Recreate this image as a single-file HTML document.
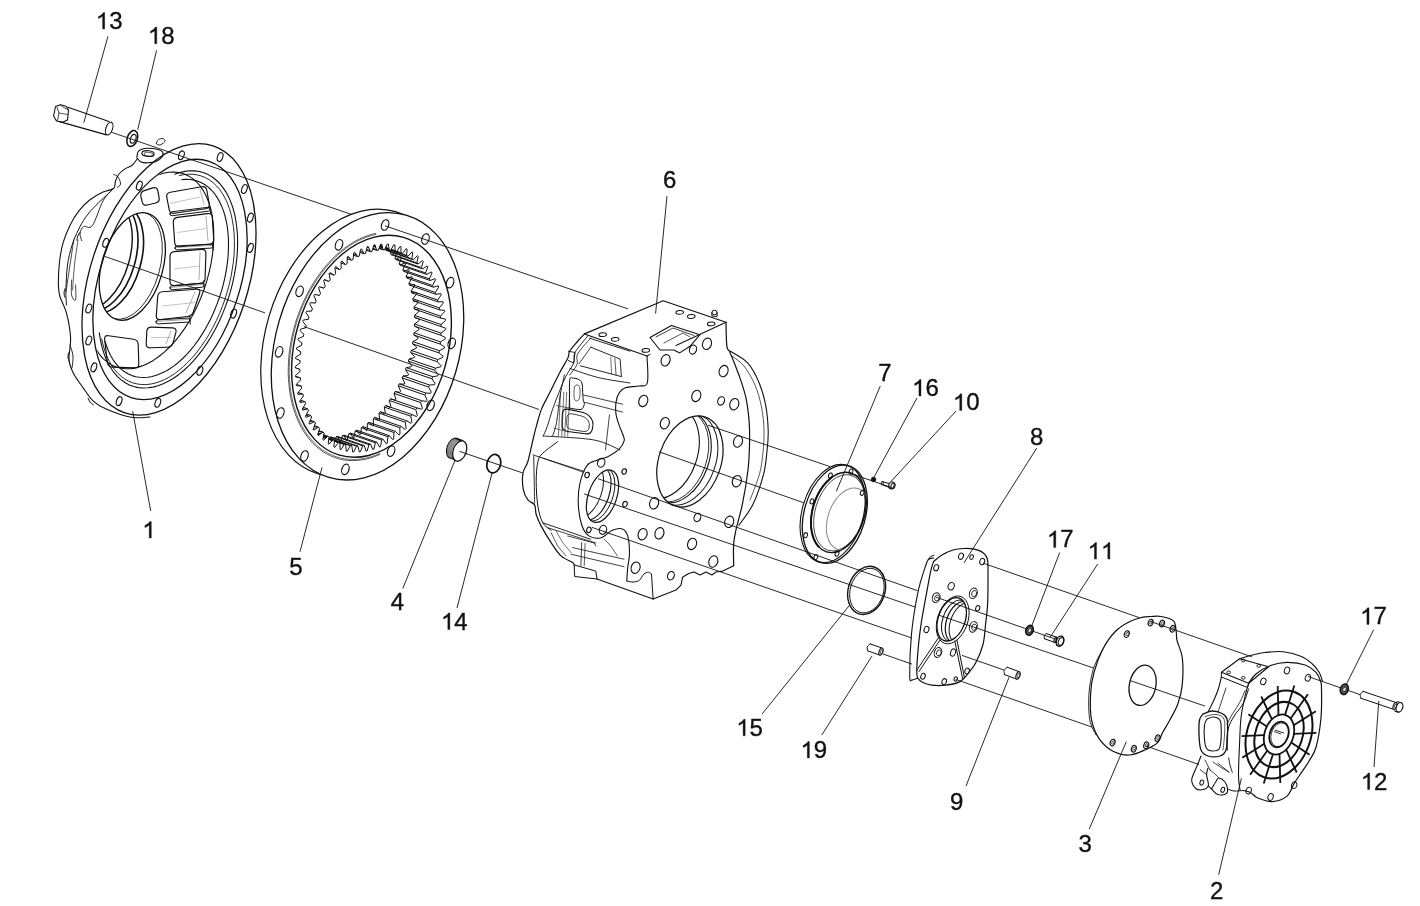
<!DOCTYPE html>
<html><head><meta charset="utf-8"><style>
html,body{margin:0;padding:0;background:#fff;width:1420px;height:906px;overflow:hidden}
svg{display:block;filter:grayscale(1)}
text{font-family:"Liberation Sans",sans-serif;fill:#111;stroke:#111;stroke-width:0.35px}
.t{will-change:transform}
</style></head><body>
<svg width="1420" height="906" viewBox="0 0 1420 906">
<rect width="1420" height="906" fill="#fff"/>
<path d="M104.7 29.1 L102.6 29.1 L102.6 16.1 Q101.9 16.8 100.6 17.5 Q99.4 18.2 98.4 18.6 L98.4 16.6 Q100.2 15.8 101.5 14.7 Q102.8 13.5 103.4 12.5 L104.7 12.5 Z" fill="#111" stroke="#111" stroke-width="0.35"/>
<text x="109.2" y="29.1" font-size="24">3</text>
<path d="M156.8 43.7 L154.7 43.7 L154.7 30.7 Q153.9 31.4 152.7 32.1 Q151.4 32.8 150.5 33.2 L150.5 31.2 Q152.2 30.4 153.6 29.3 Q154.9 28.1 155.4 27.1 L156.8 27.1 Z" fill="#111" stroke="#111" stroke-width="0.35"/>
<text x="161.2" y="43.7" font-size="24">8</text>
<text x="663.1" y="187.5" font-size="24">6</text>
<text x="878.2" y="380.5" font-size="24">7</text>
<path d="M921.0 396.0 L918.9 396.0 L918.9 383.0 Q918.2 383.7 916.9 384.4 Q915.7 385.1 914.7 385.5 L914.7 383.5 Q916.5 382.7 917.8 381.6 Q919.1 380.4 919.7 379.4 L921.0 379.4 Z" fill="#111" stroke="#111" stroke-width="0.35"/>
<text x="925.5" y="396.0" font-size="24">6</text>
<path d="M961.8 410.4 L959.7 410.4 L959.7 397.4 Q959.0 398.1 957.7 398.8 Q956.5 399.5 955.5 399.9 L955.5 397.9 Q957.3 397.1 958.6 396.0 Q959.9 394.8 960.5 393.8 L961.8 393.8 Z" fill="#111" stroke="#111" stroke-width="0.35"/>
<text x="966.2" y="410.4" font-size="24">0</text>
<text x="1029.9" y="444.5" font-size="24">8</text>
<path d="M151.3 538.0 L149.2 538.0 L149.2 525.0 Q148.4 525.7 147.2 526.4 Q145.9 527.1 144.9 527.5 L144.9 525.5 Q146.7 524.7 148.0 523.6 Q149.4 522.4 149.9 521.4 L151.3 521.4 Z" fill="#111" stroke="#111" stroke-width="0.35"/>
<text x="289.2" y="574.6" font-size="24">5</text>
<text x="390.8" y="610.4" font-size="24">4</text>
<path d="M449.9 629.5 L447.8 629.5 L447.8 616.5 Q447.0 617.2 445.8 617.9 Q444.6 618.6 443.6 619.0 L443.6 617.0 Q445.3 616.2 446.7 615.1 Q448.0 613.9 448.5 612.9 L449.9 612.9 Z" fill="#111" stroke="#111" stroke-width="0.35"/>
<text x="454.3" y="629.5" font-size="24">4</text>
<path d="M1055.8 547.4 L1053.7 547.4 L1053.7 534.4 Q1053.0 535.1 1051.7 535.8 Q1050.5 536.5 1049.5 536.9 L1049.5 534.9 Q1051.3 534.1 1052.6 533.0 Q1053.9 531.8 1054.5 530.8 L1055.8 530.8 Z" fill="#111" stroke="#111" stroke-width="0.35"/>
<text x="1060.2" y="547.4" font-size="24">7</text>
<path d="M1096.5 559.1 L1094.4 559.1 L1094.4 546.1 Q1093.7 546.8 1092.4 547.5 Q1091.2 548.2 1090.2 548.6 L1090.2 546.6 Q1092.0 545.8 1093.3 544.7 Q1094.6 543.5 1095.2 542.5 L1096.5 542.5 Z" fill="#111" stroke="#111" stroke-width="0.35"/>
<path d="M1109.9 559.1 L1107.8 559.1 L1107.8 546.1 Q1107.0 546.8 1105.8 547.5 Q1104.5 548.2 1103.6 548.6 L1103.6 546.6 Q1105.3 545.8 1106.7 544.7 Q1108.0 543.5 1108.5 542.5 L1109.9 542.5 Z" fill="#111" stroke="#111" stroke-width="0.35"/>
<path d="M745.2 735.8 L743.1 735.8 L743.1 722.8 Q742.3 723.5 741.1 724.2 Q739.9 724.9 738.9 725.3 L738.9 723.3 Q740.6 722.5 742.0 721.4 Q743.3 720.2 743.8 719.2 L745.2 719.2 Z" fill="#111" stroke="#111" stroke-width="0.35"/>
<text x="749.6" y="735.8" font-size="24">5</text>
<path d="M809.4 758.0 L807.3 758.0 L807.3 745.0 Q806.5 745.7 805.3 746.4 Q804.0 747.1 803.1 747.5 L803.1 745.5 Q804.8 744.7 806.2 743.6 Q807.5 742.4 808.0 741.4 L809.4 741.4 Z" fill="#111" stroke="#111" stroke-width="0.35"/>
<text x="813.8" y="758.0" font-size="24">9</text>
<text x="950.0" y="810.1" font-size="24">9</text>
<text x="1078.6" y="852.3" font-size="24">3</text>
<text x="1210.1" y="899.1" font-size="24">2</text>
<path d="M1369.0 624.4 L1366.9 624.4 L1366.9 611.4 Q1366.1 612.1 1364.9 612.8 Q1363.7 613.5 1362.7 613.9 L1362.7 611.9 Q1364.4 611.1 1365.8 610.0 Q1367.1 608.8 1367.6 607.8 L1369.0 607.8 Z" fill="#111" stroke="#111" stroke-width="0.35"/>
<text x="1373.4" y="624.4" font-size="24">7</text>
<path d="M1369.7 789.6 L1367.6 789.6 L1367.6 776.6 Q1366.8 777.3 1365.6 778.0 Q1364.3 778.7 1363.4 779.1 L1363.4 777.1 Q1365.1 776.3 1366.5 775.2 Q1367.8 774.0 1368.3 773.0 L1369.7 773.0 Z" fill="#111" stroke="#111" stroke-width="0.35"/>
<text x="1374.1" y="789.6" font-size="24">2</text>
<line x1="108.0" y1="36.2" x2="83.8" y2="122.7" stroke="#111" stroke-width="0.9"/>
<line x1="156.6" y1="50.3" x2="137.7" y2="129.8" stroke="#111" stroke-width="0.9"/>
<line x1="667.0" y1="196.0" x2="655.6" y2="313.5" stroke="#111" stroke-width="0.9"/>
<line x1="880.3" y1="386.0" x2="836.3" y2="491.4" stroke="#111" stroke-width="0.9"/>
<line x1="917.0" y1="398.0" x2="873.9" y2="477.4" stroke="#111" stroke-width="0.9"/>
<line x1="955.9" y1="411.2" x2="891.0" y2="481.5" stroke="#111" stroke-width="0.9"/>
<line x1="1036.8" y1="448.0" x2="964.0" y2="562.8" stroke="#111" stroke-width="0.9"/>
<line x1="150.7" y1="511.0" x2="132.7" y2="411.3" stroke="#111" stroke-width="0.9"/>
<line x1="300.0" y1="551.8" x2="322.0" y2="467.4" stroke="#111" stroke-width="0.9"/>
<line x1="402.8" y1="588.5" x2="454.7" y2="461.0" stroke="#111" stroke-width="0.9"/>
<line x1="457.0" y1="608.0" x2="492.2" y2="472.5" stroke="#111" stroke-width="0.9"/>
<line x1="1059.7" y1="552.5" x2="1031.5" y2="626.6" stroke="#111" stroke-width="0.9"/>
<line x1="1097.7" y1="564.0" x2="1050.0" y2="637.5" stroke="#111" stroke-width="0.9"/>
<line x1="762.1" y1="714.0" x2="849.3" y2="605.5" stroke="#111" stroke-width="0.9"/>
<line x1="821.8" y1="735.0" x2="872.0" y2="656.0" stroke="#111" stroke-width="0.9"/>
<line x1="966.0" y1="786.0" x2="1009.0" y2="677.3" stroke="#111" stroke-width="0.9"/>
<line x1="1089.3" y1="829.0" x2="1126.3" y2="741.7" stroke="#111" stroke-width="0.9"/>
<line x1="1218.7" y1="874.7" x2="1241.4" y2="778.3" stroke="#111" stroke-width="0.9"/>
<line x1="1373.6" y1="629.8" x2="1346.5" y2="684.0" stroke="#111" stroke-width="0.9"/>
<line x1="1374.0" y1="767.0" x2="1378.8" y2="701.0" stroke="#111" stroke-width="0.9"/>
<line x1="111.0" y1="132.1" x2="352.0" y2="214.6" stroke="#111" stroke-width="0.9"/>
<line x1="385.0" y1="225.8" x2="628.0" y2="308.9" stroke="#111" stroke-width="0.9"/>
<line x1="104.5" y1="256.3" x2="265.0" y2="312.9" stroke="#111" stroke-width="0.9"/>
<line x1="304.0" y1="326.6" x2="539.0" y2="409.5" stroke="#111" stroke-width="0.9"/>
<line x1="659.0" y1="451.8" x2="804.0" y2="502.9" stroke="#111" stroke-width="0.9"/>
<line x1="708.0" y1="425.2" x2="830.0" y2="466.6" stroke="#111" stroke-width="0.9"/>
<line x1="851.0" y1="473.7" x2="892.0" y2="487.6" stroke="#111" stroke-width="0.9"/>
<line x1="598.0" y1="478.7" x2="917.5" y2="590.7" stroke="#111" stroke-width="0.9"/>
<line x1="936.0" y1="597.2" x2="1060.0" y2="640.7" stroke="#111" stroke-width="0.9"/>
<line x1="459.0" y1="451.2" x2="522.5" y2="472.9" stroke="#111" stroke-width="0.9"/>
<line x1="584.0" y1="493.9" x2="915.6" y2="607.2" stroke="#111" stroke-width="0.9"/>
<line x1="938.0" y1="614.9" x2="1094.0" y2="668.2" stroke="#111" stroke-width="0.9"/>
<line x1="1130.0" y1="680.5" x2="1205.0" y2="706.1" stroke="#111" stroke-width="0.9"/>
<line x1="1275.0" y1="730.1" x2="1284.0" y2="733.1" stroke="#111" stroke-width="0.9"/>
<line x1="592.0" y1="527.4" x2="912.0" y2="638.1" stroke="#111" stroke-width="0.9"/>
<line x1="962.0" y1="655.4" x2="1004.0" y2="670.0" stroke="#111" stroke-width="0.9"/>
<line x1="883.0" y1="654.0" x2="912.0" y2="664.1" stroke="#111" stroke-width="0.9"/>
<line x1="955.7" y1="679.4" x2="1092.0" y2="727.1" stroke="#111" stroke-width="0.9"/>
<line x1="1146.0" y1="746.0" x2="1199.0" y2="764.5" stroke="#111" stroke-width="0.9"/>
<line x1="983.0" y1="563.1" x2="1140.0" y2="617.9" stroke="#111" stroke-width="0.9"/>
<line x1="1150.0" y1="621.3" x2="1252.0" y2="656.9" stroke="#111" stroke-width="0.9"/>
<line x1="1308.0" y1="676.5" x2="1360.0" y2="694.6" stroke="#111" stroke-width="0.9"/>
<path d="M67.9 107.2 L109.0 121.5" fill="none" stroke="#111" stroke-width="1.1" stroke-linejoin="round" stroke-linecap="round" />
<path d="M59.4 121.6 L106.5 134.9" fill="none" stroke="#111" stroke-width="1.1" stroke-linejoin="round" stroke-linecap="round" />
<ellipse cx="109.2" cy="128.6" rx="3.3" ry="6.6" transform="rotate(19.3 109.2 128.6)" fill="#fff" stroke="#111" stroke-width="1.1"/>
<path d="M55.5 106.5 L60.5 104.8 L66.0 106.3 L68.5 110.0 L67.5 120.0 L62.5 122.3 L56.5 121.0 L53.6 116.0 L55.5 106.5" fill="none" stroke="#111" stroke-width="1.1" stroke-linejoin="round" stroke-linecap="round" />
<path d="M57.0 107.5 L59.0 113.0 L57.5 120.5" fill="none" stroke="#111" stroke-width="0.8" stroke-linejoin="round" stroke-linecap="round" />
<path d="M59.0 113.0 L67.5 114.5" fill="none" stroke="#111" stroke-width="0.7" stroke-linejoin="round" stroke-linecap="round" />
<path d="M60.5 104.8 L62.0 106.5 L68.5 110.0" fill="none" stroke="#111" stroke-width="0.7" stroke-linejoin="round" stroke-linecap="round" />
<ellipse cx="132.3" cy="138.5" rx="5.0" ry="8.2" transform="rotate(19.3 132.3 138.5)" fill="none" stroke="#111" stroke-width="1.5"/>
<ellipse cx="133.2" cy="138.8" rx="2.6" ry="4.6" transform="rotate(19.3 133.2 138.8)" fill="none" stroke="#111" stroke-width="1.1"/>
<path d="M137.5 158.5 C136.6 159.6 134.3 163.5 132.2 165.2 C130.1 166.9 127.2 167.4 125.0 168.9 C122.8 170.4 120.6 172.0 119.0 174.0 C117.4 176.0 116.4 178.6 115.5 181.0 C114.6 183.4 115.7 186.7 113.6 188.5 C111.5 190.3 107.0 190.2 103.0 192.1 C99.0 194.0 93.7 196.9 89.7 200.0 C85.7 203.1 82.3 206.5 79.1 210.6 C75.9 214.7 72.9 219.4 70.3 224.7 C67.7 230.0 65.0 236.2 63.2 242.4 C61.4 248.6 60.3 254.9 59.5 262.0 C58.7 269.1 58.3 279.2 58.4 285.0 C58.5 290.8 58.5 291.8 59.9 296.5 C61.2 301.2 64.7 306.2 66.5 313.1 C68.3 320.0 70.2 330.2 70.6 337.9 C71.0 345.6 68.6 353.6 69.0 359.4 C69.4 365.2 70.8 368.0 73.1 372.7 C75.4 377.4 79.7 382.9 83.0 387.6 C86.3 392.3 89.1 397.2 93.0 400.8 C96.9 404.4 99.9 406.4 106.2 409.1 C112.5 411.9 123.7 416.0 131.0 417.3 C138.3 418.6 146.8 417.1 150.0 417.0" fill="none" stroke="#111" stroke-width="1.1" stroke-linejoin="round" stroke-linecap="round" />
<path d="M111.8 190.3 C108.9 193.1 98.6 202.5 94.2 207.1 C89.8 211.7 88.0 213.9 85.3 217.7 C82.6 221.5 80.5 225.4 78.3 230.0 C76.1 234.6 73.9 239.3 72.1 245.1 C70.3 250.9 68.5 257.5 67.5 265.0 C66.5 272.5 66.1 283.3 65.9 290.0 C65.7 296.7 66.4 302.5 66.5 305.0" fill="none" stroke="#111" stroke-width="1.0" stroke-linejoin="round" stroke-linecap="round" />
<path d="M113.0 189.0 C111.3 191.0 106.4 194.8 103.0 200.9 C99.6 207.0 95.6 221.3 92.4 225.6 C89.2 229.9 85.7 225.2 83.6 226.5 C81.5 227.8 80.3 231.2 80.0 233.6 C79.7 235.9 81.5 239.4 81.8 240.6" fill="none" stroke="#111" stroke-width="0.9" stroke-linejoin="round" stroke-linecap="round" />
<path d="M71.6 280.0 C71.6 282.5 70.9 291.7 71.6 295.0 C72.3 298.3 74.9 301.7 75.6 300.0 C76.3 298.3 75.6 287.5 75.6 285.0" fill="none" stroke="#111" stroke-width="0.8" stroke-linejoin="round" stroke-linecap="round" />
<path d="M113.6 174.4 C114.3 174.8 116.8 175.4 118.0 177.0 C119.2 178.6 120.8 182.2 120.6 184.0 C120.4 185.8 117.6 187.1 117.0 187.7" fill="none" stroke="#111" stroke-width="0.9" stroke-linejoin="round" stroke-linecap="round" />
<path d="M70.0 345.0 C70.5 346.8 72.7 352.2 73.0 356.0 C73.3 359.8 72.2 366.0 72.0 368.0" fill="none" stroke="#111" stroke-width="0.9" stroke-linejoin="round" stroke-linecap="round" />
<path d="M64.9 288.8 C64.7 289.5 64.0 291.6 64.0 293.0 C64.0 294.4 64.7 296.5 64.9 297.2" fill="none" stroke="#111" stroke-width="1.0" stroke-linejoin="round" stroke-linecap="round" />
<path d="M68.5 353.0 C68.4 353.7 67.9 355.8 68.0 357.2 C68.1 358.6 69.0 360.6 69.2 361.3" fill="none" stroke="#111" stroke-width="1.0" stroke-linejoin="round" stroke-linecap="round" />
<path d="M88.1 398.3 C88.4 399.0 89.2 401.0 90.1 402.1 C91.0 403.2 92.9 404.3 93.4 404.8" fill="none" stroke="#111" stroke-width="1.0" stroke-linejoin="round" stroke-linecap="round" />
<path d="M79.9 232.5 C79.5 233.1 78.1 234.8 77.7 236.1 C77.2 237.5 77.1 239.7 77.0 240.4" fill="none" stroke="#111" stroke-width="1.0" stroke-linejoin="round" stroke-linecap="round" />
<path d="M137.1 156.0 C137.2 155.0 137.3 153.1 138.0 152.0 C138.7 150.9 139.3 150.1 141.0 149.5 C142.7 148.9 145.2 148.3 148.0 148.3 C150.8 148.3 155.6 148.9 158.0 149.5 C160.4 150.1 161.9 150.8 162.6 152.0 C163.3 153.2 163.1 155.4 162.0 157.0 C160.9 158.6 158.3 160.5 156.0 161.5 C153.7 162.5 150.5 162.7 148.0 162.8 C145.5 162.9 142.8 162.8 141.0 162.0 C139.2 161.2 137.8 159.0 137.1 158.0 C136.4 157.0 136.9 157.0 137.1 156.0 Z" fill="none" stroke="#111" stroke-width="1.1" stroke-linejoin="round" stroke-linecap="round" />
<ellipse cx="148.0" cy="153.6" rx="6.2" ry="2.9" transform="rotate(5.0 148.0 153.6)" fill="none" stroke="#111" stroke-width="1.1"/>
<ellipse cx="148.6" cy="154.2" rx="4.6" ry="1.9" transform="rotate(5.0 148.6 154.2)" fill="none" stroke="#111" stroke-width="0.7"/>
<path d="M156.5 143.0 C156.7 142.2 157.4 140.2 158.5 139.5 C159.6 138.8 161.9 138.3 163.0 138.6 C164.1 138.8 165.3 140.0 165.0 141.0 C164.7 142.0 162.2 144.0 161.0 144.6 C159.8 145.2 158.2 144.9 157.5 144.6 C156.8 144.3 156.3 143.8 156.5 143.0 Z" fill="none" stroke="#111" stroke-width="0.9" stroke-linejoin="round" stroke-linecap="round" />
<ellipse cx="169.0" cy="279.4" rx="79.0" ry="140.6" transform="rotate(18.3 169.0 279.4)" fill="none" stroke="#111" stroke-width="1.3"/>
<ellipse cx="181.4" cy="155.3" rx="2.6" ry="4.6" transform="rotate(19.3 181.4 155.3)" fill="none" stroke="#111" stroke-width="1.1"/>
<ellipse cx="220.1" cy="157.0" rx="2.6" ry="4.6" transform="rotate(19.3 220.1 157.0)" fill="none" stroke="#111" stroke-width="1.1"/>
<ellipse cx="244.4" cy="189.0" rx="2.6" ry="4.6" transform="rotate(19.3 244.4 189.0)" fill="none" stroke="#111" stroke-width="1.1"/>
<ellipse cx="250.4" cy="217.6" rx="2.6" ry="4.6" transform="rotate(19.3 250.4 217.6)" fill="none" stroke="#111" stroke-width="1.1"/>
<ellipse cx="250.4" cy="247.9" rx="2.6" ry="4.6" transform="rotate(19.3 250.4 247.9)" fill="none" stroke="#111" stroke-width="1.1"/>
<ellipse cx="233.6" cy="313.6" rx="2.6" ry="4.6" transform="rotate(19.3 233.6 313.6)" fill="none" stroke="#111" stroke-width="1.1"/>
<ellipse cx="199.9" cy="370.8" rx="2.6" ry="4.6" transform="rotate(19.3 199.9 370.8)" fill="none" stroke="#111" stroke-width="1.1"/>
<ellipse cx="157.8" cy="402.8" rx="2.6" ry="4.6" transform="rotate(19.3 157.8 402.8)" fill="none" stroke="#111" stroke-width="1.1"/>
<ellipse cx="119.1" cy="401.1" rx="2.6" ry="4.6" transform="rotate(19.3 119.1 401.1)" fill="none" stroke="#111" stroke-width="1.1"/>
<ellipse cx="93.9" cy="367.4" rx="2.6" ry="4.6" transform="rotate(19.3 93.9 367.4)" fill="none" stroke="#111" stroke-width="1.1"/>
<ellipse cx="88.8" cy="340.5" rx="2.6" ry="4.6" transform="rotate(19.3 88.8 340.5)" fill="none" stroke="#111" stroke-width="1.1"/>
<ellipse cx="88.8" cy="308.5" rx="2.6" ry="4.6" transform="rotate(19.3 88.8 308.5)" fill="none" stroke="#111" stroke-width="1.1"/>
<ellipse cx="105.7" cy="242.8" rx="2.6" ry="4.6" transform="rotate(19.3 105.7 242.8)" fill="none" stroke="#111" stroke-width="1.1"/>
<ellipse cx="139.3" cy="185.6" rx="2.6" ry="4.6" transform="rotate(19.3 139.3 185.6)" fill="none" stroke="#111" stroke-width="1.1"/>
<ellipse cx="170.0" cy="279.4" rx="69.9" ry="124.4" transform="rotate(18.3 170.0 279.4)" fill="none" stroke="#111" stroke-width="1.3"/>
<clipPath id="c1"><ellipse cx="170.0" cy="279.4" rx="69.9" ry="124.4" transform="rotate(18.3 170.0 279.4)"/></clipPath><g clip-path="url(#c1)">
<path d="M174.7 174.2 L179.8 172.5 L184.8 171.4 L189.8 170.8 L194.6 170.9 L199.3 171.5 L203.8 172.8 L208.2 174.6 L212.3 177.0 L216.1 180.0 L219.7 183.5 L223.0 187.6 L226.0 192.1 L228.7 197.1 L231.1 202.6 L233.1 208.5 L234.8 214.8 L236.0 221.5 L236.9 228.5 L237.5 235.7 L237.6 243.2 L237.4 250.9 L236.8 258.7 L235.8 266.7 L234.4 274.7 L232.7 282.8 L230.6 290.8 L228.2 298.8 L225.4 306.6 L222.3 314.4 L218.9 321.9 L215.3 329.2 L211.4 336.2 L207.2 342.9 L202.8 349.3 L198.3 355.2 L193.5 360.8 L188.7 365.9 L183.7 370.5 L178.6 374.7 L173.5 378.3 L168.3 381.3 L163.2 383.8 L158.0 385.8 L153.0 387.1 L148.0 387.8 L143.1 388.0 L138.3 387.6 L133.7 386.5 L129.3 384.9 L125.2 382.7 L121.2 379.9 L117.5 376.6 L114.1 372.7 L111.0 368.3 L108.2 363.5 L105.7 358.2 L103.6 352.4 L101.8 346.2 L100.4 339.7 L99.3 332.8" fill="none" stroke="#111" stroke-width="1.1" stroke-linejoin="round" stroke-linecap="round" />
<path d="M179.3 175.6 L184.0 174.6 L188.6 174.2 L193.1 174.3 L197.4 174.9 L201.6 176.1 L205.7 177.8 L209.5 180.0 L213.1 182.7 L216.5 185.9 L219.7 189.5 L222.5 193.7 L225.1 198.2 L227.4 203.2 L229.4 208.6 L231.1 214.3 L232.4 220.3 L233.4 226.7 L234.1 233.3 L234.4 240.2 L234.4 247.2 L234.1 254.4 L233.4 261.8 L232.3 269.2 L231.0 276.7 L229.3 284.2 L227.3 291.7 L225.0 299.1 L222.4 306.4 L219.5 313.6 L216.3 320.6 L212.9 327.4 L209.3 333.9 L205.5 340.2 L201.4 346.1 L197.2 351.8 L192.8 357.0 L188.3 361.9 L183.7 366.3 L179.0 370.3 L174.3 373.9 L169.5 376.9 L164.7 379.5 L159.9 381.5 L155.1 383.1 L150.4 384.1 L145.8 384.6 L141.3 384.5 L136.9 383.9 L132.7 382.8 L128.7 381.2 L124.8 379.0 L121.2 376.4 L117.8 373.2 L114.6 369.6 L111.7 365.5 L109.1 361.0 L106.8 356.0 L104.8 350.7 L103.1 345.0 L101.7 339.0" fill="none" stroke="#111" stroke-width="0.9" stroke-linejoin="round" stroke-linecap="round" />
<path d="M182.0 179.6 L186.1 179.3 L190.1 179.5 L194.1 180.1 L197.9 181.2 L201.5 182.7 L205.0 184.7 L208.2 187.1 L211.3 190.0 L214.2 193.2 L216.8 196.9 L219.2 201.0 L221.3 205.4 L223.2 210.1 L224.8 215.2 L226.1 220.5 L227.2 226.2 L227.9 232.0 L228.4 238.1 L228.5 244.4 L228.4 250.8 L228.0 257.4 L227.2 264.1 L226.2 270.8 L224.9 277.6 L223.3 284.4 L221.5 291.1 L219.3 297.8 L216.9 304.4 L214.3 310.8 L211.5 317.2 L208.4 323.3 L205.1 329.2 L201.7 334.9 L198.1 340.4 L194.3 345.5 L190.4 350.3 L186.3 354.8 L182.2 359.0 L178.0 362.7 L173.7 366.1 L169.4 369.0 L165.0 371.6 L160.7 373.6 L156.4 375.3 L152.1 376.5 L147.9 377.2 L143.7 377.5 L139.7 377.3 L135.8 376.7 L132.0 375.6 L128.3 374.0 L124.9 372.0 L121.6 369.6 L118.5 366.7 L115.7 363.4 L113.1 359.7 L110.7 355.7 L108.6 351.2 L106.7 346.5 L105.1 341.4" fill="none" stroke="#111" stroke-width="1.1" stroke-linejoin="round" stroke-linecap="round" />
</g>
<ellipse cx="132.3" cy="266.5" rx="30.5" ry="55.3" transform="rotate(16.0 132.3 266.5)" fill="none" stroke="#111" stroke-width="1.3"/>
<clipPath id="c2"><ellipse cx="132.3" cy="266.5" rx="30.5" ry="55.3" transform="rotate(16.0 132.3 266.5)"/></clipPath><g clip-path="url(#c2)">
<ellipse cx="110.5" cy="259.0" rx="30.5" ry="55.3" transform="rotate(16.0 110.5 259.0)" fill="none" stroke="#111" stroke-width="1.6"/>
<ellipse cx="104.9" cy="257.0" rx="30.5" ry="55.3" transform="rotate(16.0 104.9 257.0)" fill="none" stroke="#111" stroke-width="1.6"/>
<ellipse cx="99.2" cy="255.1" rx="30.5" ry="55.3" transform="rotate(16.0 99.2 255.1)" fill="none" stroke="#111" stroke-width="1.4"/>
<ellipse cx="129.3" cy="265.5" rx="30.5" ry="55.3" transform="rotate(16.0 129.3 265.5)" fill="none" stroke="#111" stroke-width="0.8"/>
</g>
<clipPath id="c3"><ellipse cx="170.0" cy="279.4" rx="69.1" ry="123.0" transform="rotate(18.3 170.0 279.4)"/></clipPath><g clip-path="url(#c3)">
<path d="M130.3 193.8 L135.7 188.7 L141.1 184.3 L146.7 180.4 L152.2 177.3 L157.8 174.9 L163.3 173.2 L168.7 172.2 L173.9 172.0 L179.0 172.6 L183.8 173.8 L188.4 175.9 L192.7 178.6 L196.7 182.0 L200.3 186.1 L203.5 190.9 L206.3 196.3 L208.7 202.2 L210.7 208.6 L212.1 215.5 L213.2 222.8 L213.7 230.5 L213.7 238.5 L213.3 246.8 L212.4 255.2 L211.0 263.7 L209.1 272.3 L206.8 280.9 L204.1 289.3 L200.9 297.7 L197.4 305.8 L193.5 313.7 L189.3 321.2 L184.7 328.4 L179.9 335.1 L174.9 341.3 L169.7 347.0 L164.3 352.1 L158.9 356.5 L153.3 360.4 L147.8 363.5 L142.2 365.9 L136.7 367.6 L131.3 368.6 L126.1 368.8 L121.0 368.2 L116.2 367.0 L111.6 364.9 L107.3 362.2 L103.3 358.8 L99.7 354.7 L96.5 349.9 L93.7 344.5 L91.3 338.6 L89.3 332.2 L87.9 325.3 L86.8 318.0 L86.3 310.3 L86.3 302.3 L86.7 294.0 L87.6 285.6" fill="none" stroke="#111" stroke-width="1.1" stroke-linejoin="round" stroke-linecap="round" />
</g>
<path d="M140.9 196.4 Q140.0 192.0 144.3 190.6 L152.7 187.9 Q157.0 186.5 157.9 190.9 L159.1 197.6 Q160.0 202.0 155.6 203.0 L147.4 205.0 Q143.0 206.0 142.1 201.6 Z" fill="none" stroke="#111" stroke-width="1.15" stroke-linejoin="round" stroke-linecap="round" />
<path d="M166.8 197.4 Q166.0 193.0 170.4 192.2 L201.6 186.8 Q206.0 186.0 206.8 190.4 L209.2 203.6 Q210.0 208.0 205.5 208.7 L174.5 213.3 Q170.0 214.0 169.2 209.6 Z" fill="none" stroke="#111" stroke-width="1.15" stroke-linejoin="round" stroke-linecap="round" />
<path d="M173.3 222.5 Q173.0 218.0 177.5 217.4 L207.5 213.6 Q212.0 213.0 212.3 217.5 L213.7 239.5 Q214.0 244.0 209.5 244.3 L179.5 246.7 Q175.0 247.0 174.7 242.5 Z" fill="none" stroke="#111" stroke-width="1.15" stroke-linejoin="round" stroke-linecap="round" />
<path d="M170.0 256.5 Q170.0 252.0 174.5 251.6 L201.5 249.4 Q206.0 249.0 205.9 253.5 L205.1 278.5 Q205.0 283.0 200.5 283.4 L174.5 285.6 Q170.0 286.0 170.0 281.5 Z" fill="none" stroke="#111" stroke-width="1.15" stroke-linejoin="round" stroke-linecap="round" />
<path d="M157.7 296.5 Q158.0 292.0 162.5 291.7 L196.5 289.3 Q201.0 289.0 199.6 293.3 L193.4 311.7 Q192.0 316.0 187.5 316.5 L160.5 319.5 Q156.0 320.0 156.3 315.5 Z" fill="none" stroke="#111" stroke-width="1.15" stroke-linejoin="round" stroke-linecap="round" />
<path d="M146.8 331.5 Q147.0 327.0 151.5 327.1 L172.5 327.9 Q177.0 328.0 175.9 332.4 L173.1 342.6 Q172.0 347.0 167.5 347.2 L150.5 347.8 Q146.0 348.0 146.2 343.5 Z" fill="none" stroke="#111" stroke-width="1.15" stroke-linejoin="round" stroke-linecap="round" />
<path d="M104.6 339.5 Q104.0 335.0 108.5 335.7 L133.5 339.3 Q138.0 340.0 138.2 344.5 L138.8 363.5 Q139.0 368.0 134.5 367.9 L112.5 367.1 Q108.0 367.0 107.4 362.5 Z" fill="none" stroke="#111" stroke-width="1.15" stroke-linejoin="round" stroke-linecap="round" />
<path d="M170.0 214.0 Q169.8 212.0 171.7 211.8 L207.8 207.3 Q209.8 207.0 210.0 209.0 L210.0 209.0 Q210.2 211.0 208.3 211.2 L172.2 215.7 Q170.2 216.0 170.0 214.0 Z" fill="none" stroke="#111" stroke-width="1.0" stroke-linejoin="round" stroke-linecap="round" />
<line x1="170.9" y1="213.4" x2="208.9" y2="208.4" stroke="#555" stroke-width="0.55"/>
<line x1="209.4" y1="204.5" x2="210.6" y2="213.5" stroke="#111" stroke-width="1.0"/>
<path d="M175.0 248.0 Q174.9 246.0 176.9 245.9 L210.9 244.1 Q212.9 244.0 213.0 246.0 L213.0 246.0 Q213.1 248.0 211.1 248.1 L177.1 249.9 Q175.1 250.0 175.0 248.0 Z" fill="none" stroke="#111" stroke-width="1.0" stroke-linejoin="round" stroke-linecap="round" />
<line x1="176.0" y1="247.4" x2="212.0" y2="245.4" stroke="#555" stroke-width="0.55"/>
<line x1="212.8" y1="241.5" x2="213.2" y2="250.5" stroke="#111" stroke-width="1.0"/>
<path d="M170.0 288.0 Q169.8 286.0 171.8 285.8 L201.8 283.2 Q203.8 283.0 204.0 285.0 L204.0 285.0 Q204.2 287.0 202.2 287.2 L172.2 289.8 Q170.2 290.0 170.0 288.0 Z" fill="none" stroke="#111" stroke-width="1.0" stroke-linejoin="round" stroke-linecap="round" />
<line x1="170.9" y1="287.4" x2="202.9" y2="284.4" stroke="#555" stroke-width="0.55"/>
<line x1="203.6" y1="280.5" x2="204.4" y2="289.5" stroke="#111" stroke-width="1.0"/>
<path d="M156.0 322.0 Q155.9 320.0 157.9 319.9 L187.9 318.1 Q189.9 318.0 190.0 320.0 L190.0 320.0 Q190.1 322.0 188.1 322.1 L158.1 323.9 Q156.1 324.0 156.0 322.0 Z" fill="none" stroke="#111" stroke-width="1.0" stroke-linejoin="round" stroke-linecap="round" />
<line x1="157.0" y1="321.4" x2="189.0" y2="319.4" stroke="#555" stroke-width="0.55"/>
<line x1="189.7" y1="315.5" x2="190.3" y2="324.5" stroke="#111" stroke-width="1.0"/>
<line x1="200.0" y1="189.0" x2="204.0" y2="205.0" stroke="#666" stroke-width="0.55"/>
<line x1="170.0" y1="203.5" x2="200.0" y2="197.0" stroke="#888" stroke-width="0.5"/>
<line x1="206.0" y1="216.0" x2="208.0" y2="241.0" stroke="#666" stroke-width="0.55"/>
<line x1="177.0" y1="232.5" x2="206.0" y2="228.5" stroke="#888" stroke-width="0.5"/>
<line x1="200.0" y1="252.0" x2="199.0" y2="280.0" stroke="#666" stroke-width="0.55"/>
<line x1="174.0" y1="269.0" x2="200.0" y2="266.0" stroke="#888" stroke-width="0.5"/>
<line x1="195.0" y1="292.0" x2="186.0" y2="313.0" stroke="#666" stroke-width="0.55"/>
<line x1="162.0" y1="306.0" x2="195.0" y2="302.5" stroke="#888" stroke-width="0.5"/>
<line x1="171.0" y1="331.0" x2="166.0" y2="344.0" stroke="#666" stroke-width="0.55"/>
<line x1="151.0" y1="337.5" x2="171.0" y2="337.5" stroke="#888" stroke-width="0.5"/>
<path d="M73.7 240.0 C73.1 244.2 71.3 256.4 70.0 265.0 C68.7 273.6 66.7 287.3 66.0 291.8" fill="none" stroke="#111" stroke-width="0.8" stroke-linejoin="round" stroke-linecap="round" />
<path d="M78.0 240.0 C77.4 244.2 75.4 256.7 74.5 265.0 C73.6 273.3 72.9 285.8 72.6 290.0" fill="none" stroke="#111" stroke-width="0.7" stroke-linejoin="round" stroke-linecap="round" />
<clipPath id="c4"><path d="M-10 -10 H1430 V920 H-10 Z M455.7 372.2 L452.8 381.3 L449.4 390.2 L445.7 398.9 L441.6 407.4 L437.1 415.5 L432.3 423.3 L427.2 430.8 L421.8 437.8 L416.1 444.4 L410.2 450.5 L404.1 456.1 L397.8 461.1 L391.4 465.6 L384.8 469.5 L378.2 472.8 L371.5 475.5 L364.7 477.6 L358.0 479.0 L351.4 479.8 L344.8 480.0 L338.3 479.4 L332.0 478.3 L325.9 476.5 L319.9 474.0 L314.2 470.9 L308.7 467.3 L303.5 463.0 L298.7 458.2 L294.2 452.8 L290.0 446.9 L286.2 440.5 L282.8 433.7 L279.8 426.4 L277.3 418.7 L275.2 410.7 L273.5 402.4 L272.3 393.8 L271.5 385.0 L271.3 375.9 L271.5 366.8 L272.1 357.5 L273.2 348.2 L274.8 338.9 L276.9 329.6 L279.3 320.4 L282.2 311.3 L285.6 302.4 L289.3 293.7 L293.4 285.2 L297.9 277.1 L302.7 269.3 L307.8 261.8 L313.2 254.8 L318.9 248.2 L324.8 242.1 L330.9 236.5 L337.2 231.5 L343.6 227.0 L350.2 223.1 L356.8 219.8 L363.5 217.1 L370.3 215.0 L377.0 213.6 L383.6 212.8 L390.2 212.6 L396.7 213.2 L403.0 214.3 L409.1 216.1 L415.1 218.6 L420.8 221.7 L426.3 225.3 L431.5 229.6 L436.3 234.4 L440.8 239.8 L445.0 245.7 L448.8 252.1 L452.2 258.9 L455.2 266.2 L457.7 273.9 L459.8 281.9 L461.5 290.2 L462.7 298.8 L463.5 307.6 L463.7 316.7 L463.5 325.8 L462.9 335.1 L461.8 344.4 L460.2 353.7 L458.1 363.0 L455.7 372.2 Z" clip-rule="evenodd"/></clipPath><g clip-path="url(#c4)">
<ellipse cx="357.0" cy="342.8" rx="91.9" ry="136.7" transform="rotate(16.4 357.0 342.8)" fill="none" stroke="#111" stroke-width="1.2"/>
</g>
<ellipse cx="367.5" cy="346.3" rx="91.9" ry="136.7" transform="rotate(16.4 367.5 346.3)" fill="none" stroke="#111" stroke-width="1.3"/>
<ellipse cx="385.1" cy="225.0" rx="3.5" ry="5.4" transform="rotate(19.3 385.1 225.0)" fill="none" stroke="#111" stroke-width="1.2"/>
<ellipse cx="425.5" cy="239.0" rx="3.5" ry="5.4" transform="rotate(19.3 425.5 239.0)" fill="none" stroke="#111" stroke-width="1.2"/>
<ellipse cx="450.1" cy="282.6" rx="3.5" ry="5.4" transform="rotate(19.3 450.1 282.6)" fill="none" stroke="#111" stroke-width="1.2"/>
<ellipse cx="451.7" cy="343.4" rx="3.5" ry="5.4" transform="rotate(19.3 451.7 343.4)" fill="none" stroke="#111" stroke-width="1.2"/>
<ellipse cx="430.6" cy="405.4" rx="3.5" ry="5.4" transform="rotate(19.3 430.6 405.4)" fill="none" stroke="#111" stroke-width="1.2"/>
<ellipse cx="391.1" cy="451.1" rx="3.5" ry="5.4" transform="rotate(19.3 391.1 451.1)" fill="none" stroke="#111" stroke-width="1.2"/>
<ellipse cx="345.4" cy="469.4" rx="3.5" ry="5.4" transform="rotate(19.3 345.4 469.4)" fill="none" stroke="#111" stroke-width="1.2"/>
<ellipse cx="304.5" cy="456.0" rx="3.5" ry="5.4" transform="rotate(19.3 304.5 456.0)" fill="none" stroke="#111" stroke-width="1.2"/>
<ellipse cx="280.4" cy="413.0" rx="3.5" ry="5.4" transform="rotate(19.3 280.4 413.0)" fill="none" stroke="#111" stroke-width="1.2"/>
<ellipse cx="279.1" cy="351.8" rx="3.5" ry="5.4" transform="rotate(19.3 279.1 351.8)" fill="none" stroke="#111" stroke-width="1.2"/>
<ellipse cx="299.6" cy="291.3" rx="3.5" ry="5.4" transform="rotate(19.3 299.6 291.3)" fill="none" stroke="#111" stroke-width="1.2"/>
<ellipse cx="339.0" cy="244.8" rx="3.5" ry="5.4" transform="rotate(19.3 339.0 244.8)" fill="none" stroke="#111" stroke-width="1.2"/>
<ellipse cx="371.5" cy="346.3" rx="76.3" ry="113.5" transform="rotate(16.4 371.5 346.3)" fill="none" stroke="#111" stroke-width="1.4"/>
<path d="M379.6 454.5 L375.1 456.4 L370.5 457.9 L366.0 459.1 L361.5 459.9 L357.0 460.4 L352.5 460.6 L348.1 460.4 L343.7 459.9 L339.5 459.0 L335.3 457.7 L331.3 456.2 L327.3 454.2 L323.5 452.0 L319.9 449.4 L316.4 446.6 L313.0 443.4 L309.9 439.9 L306.9 436.1 L304.1 432.1 L301.5 427.8 L299.1 423.2 L297.0 418.4 L295.1 413.4 L293.4 408.2 L291.9 402.8 L290.7 397.3 L289.7 391.5 L289.0 385.7 L288.5 379.7 L288.2 373.6 L288.3 367.4 L288.5 361.2 L289.0 354.9 L289.8 348.6 L290.8 342.3 L292.1 336.0 L293.6 329.7 L295.3 323.5 L297.3 317.3 L299.5 311.2 L301.9 305.3 L304.5 299.5 L307.3 293.8 L310.3 288.2 L313.5 282.9 L316.9 277.7 L320.4 272.8 L324.1 268.1 L327.9 263.6 L331.8 259.4 L335.9 255.4 L340.1 251.7 L344.4 248.3 L348.7 245.2 L353.1 242.4 L357.6 239.9 L362.1 237.8 L366.6 236.0 L371.2 234.5 L375.7 233.4" fill="none" stroke="#111" stroke-width="0.7" stroke-linejoin="round" stroke-linecap="round" />
<path d="M379.8 453.5 L375.3 455.3 L370.8 456.9 L366.3 458.0 L361.8 458.9 L357.4 459.4 L353.0 459.5 L348.6 459.3 L344.3 458.8 L340.1 457.9 L336.0 456.7 L331.9 455.1 L328.0 453.2 L324.3 451.0 L320.6 448.5 L317.2 445.6 L313.9 442.5 L310.7 439.0 L307.8 435.3 L305.0 431.3 L302.5 427.0 L300.1 422.5 L298.0 417.8 L296.1 412.8 L294.4 407.6 L292.9 402.3 L291.7 396.8 L290.7 391.1 L290.0 385.3 L289.5 379.4 L289.3 373.3 L289.3 367.2 L289.6 361.0 L290.1 354.8 L290.9 348.6 L291.9 342.3 L293.1 336.1 L294.6 329.8 L296.3 323.7 L298.3 317.6 L300.4 311.6 L302.8 305.7 L305.4 299.9 L308.2 294.3 L311.2 288.8 L314.3 283.5 L317.7 278.4 L321.2 273.5 L324.8 268.8 L328.6 264.4 L332.5 260.2 L336.5 256.2 L340.7 252.6 L344.9 249.2 L349.2 246.1 L353.6 243.4 L358.0 240.9 L362.5 238.8 L367.0 237.0 L371.5 235.5 L376.0 234.4" fill="none" stroke="#111" stroke-width="0.6" stroke-linejoin="round" stroke-linecap="round" />
<path d="M440.5 366.8 L435.5 368.2 L434.8 370.3 L438.2 374.5 L437.8 375.9 L432.7 376.7 L432.0 378.8 L435.0 383.4 L434.5 384.7 L429.5 385.0 L428.6 387.1 L431.3 392.1 L430.7 393.3 L425.8 393.0 L424.8 395.0 L427.1 400.3 L426.4 401.5 L421.6 400.7 L420.5 402.5 L422.4 408.2 L421.7 409.3 L417.0 407.9 L415.8 409.6 L417.3 415.6 L416.5 416.6 L412.1 414.6 L410.8 416.2 L411.9 422.4 L411.0 423.4 L406.8 420.8 L405.4 422.3 L406.1 428.6 L405.2 429.5 L401.2 426.4 L399.8 427.7 L400.0 434.2 L399.1 435.0 L395.4 431.4 L393.9 432.5 L393.7 439.1 L392.7 439.7 L389.4 435.7 L387.9 436.7 L387.2 443.2 L386.2 443.8 L383.2 439.3 L381.7 440.1 L380.5 446.6 L379.5 447.1 L376.9 442.2 L375.4 442.8 L373.8 449.2 L372.8 449.5 L370.6 444.3 L369.0 444.7 L367.1 451.0 L366.0 451.2 L364.3 445.6 L362.7 445.8 L360.3 451.9 L359.3 452.0 L358.0 446.2 L356.5 446.2 L353.7 452.0 L352.7 452.0 L351.8 445.9 L350.3 445.7 L347.2 451.3 L346.2 451.1 L345.8 444.9 L344.3 444.5 L340.9 449.7 L340.0 449.4 L340.0 443.1 L338.6 442.5 L334.8 447.4 L333.9 446.9 L334.4 440.5 L333.0 439.7 L329.0 444.2 L328.2 443.6 L329.1 437.2 L327.8 436.2 L323.6 440.2 L322.8 439.6 L324.1 433.1 L323.0 432.0 L318.5 435.5 L317.7 434.8 L319.6 428.4 L318.5 427.1 L313.8 430.1 L313.2 429.3 L315.4 423.0 L314.4 421.6 L309.6 424.1 L309.0 423.1 L311.6 417.1 L310.8 415.5 L305.9 417.4 L305.4 416.4 L308.4 410.5 L307.6 408.8 L302.7 410.2 L302.3 409.0 L305.6 403.5 L305.0 401.7 L300.1 402.4 L299.7 401.2 L303.4 396.0 L302.9 394.1 L298.0 394.3 L297.7 393.0 L301.7 388.1 L301.4 386.1 L296.5 385.7 L296.3 384.4 L300.6 379.9 L300.4 377.9 L295.6 376.9 L295.5 375.5 L300.0 371.5 L299.9 369.4 L295.3 367.8 L295.3 366.4 L300.0 362.9 L300.1 360.7 L295.6 358.5 L295.7 357.2 L300.5 354.1 L300.8 351.9 L296.5 349.2 L296.7 347.8 L301.6 345.3 L302.0 343.1 L298.0 339.9 L298.3 338.5 L303.3 336.5 L303.8 334.3 L300.1 330.6 L300.5 329.2 L305.5 327.8 L306.2 325.7 L302.8 321.5 L303.2 320.1 L308.3 319.3 L309.0 317.2 L306.0 312.6 L306.5 311.3 L311.5 311.0 L312.4 308.9 L309.7 303.9 L310.3 302.7 L315.2 303.0 L316.2 301.0 L313.9 295.7 L314.6 294.5 L319.4 295.3 L320.5 293.5 L318.6 287.8 L319.3 286.7 L324.0 288.1 L325.2 286.4 L323.7 280.4 L324.5 279.4 L328.9 281.4 L330.2 279.8 L329.1 273.6 L330.0 272.6 L334.2 275.2 L335.6 273.7 L334.9 267.4 L335.8 266.5 L339.8 269.6 L341.2 268.3 L341.0 261.8 L341.9 261.0 L345.6 264.6 L347.1 263.5 L347.3 256.9 L348.3 256.3 L351.6 260.3 L353.1 259.3 L353.8 252.8 L354.8 252.2 L357.8 256.7 L359.3 255.9 L360.5 249.4 L361.5 248.9 L364.1 253.8 L365.6 253.2 L367.2 246.8 L368.2 246.5 L370.4 251.7 L372.0 251.3 L373.9 245.0 L375.0 244.8 L376.7 250.4 L378.3 250.2 L380.7 244.1 L381.7 244.0 L383.0 249.8 L384.5 249.8 L387.3 244.0 L388.3 244.0 L389.2 250.1 L390.7 250.3 L393.8 244.7 L394.8 244.9 L395.2 251.1 L396.7 251.5 L400.1 246.3 L401.0 246.6 L401.0 252.9 L402.4 253.5 L406.2 248.6 L407.1 249.1 L406.6 255.5 L408.0 256.3 L412.0 251.8 L412.8 252.4 L411.9 258.8 L413.2 259.8 L417.4 255.8 L418.2 256.4 L416.9 262.9 L418.0 264.0 L422.5 260.5 L423.3 261.2 L421.4 267.6 L422.5 268.9 L427.2 265.9 L427.8 266.7 L425.6 273.0 L426.6 274.4 L431.4 271.9 L432.0 272.9 L429.4 278.9 L430.2 280.5 L435.1 278.6 L435.6 279.6 L432.6 285.5 L433.4 287.2 L438.3 285.8 L438.7 287.0 L435.4 292.5 L436.0 294.3 L440.9 293.6 L441.3 294.8 L437.6 300.0 L438.1 301.9 L443.0 301.7 L443.3 303.0 L439.3 307.9 L439.6 309.9 L444.5 310.3 L444.7 311.6 L440.4 316.1 L440.6 318.1 L445.4 319.1 L445.5 320.5 L441.0 324.5 L441.1 326.6 L445.7 328.2 L445.7 329.6 L441.0 333.1 L440.9 335.3 L445.4 337.5 L445.3 338.8 L440.5 341.9 L440.2 344.1 L444.5 346.8 L444.3 348.2 L439.4 350.7 L439.0 352.9 L443.0 356.1 L442.7 357.5 L437.7 359.5 L437.2 361.7 L440.9 365.4 Z" fill="none" stroke="#111" stroke-width="1.0" stroke-linejoin="round" stroke-linecap="round" />
<clipPath id="c5"><polygon points="440.5,366.8 435.5,368.2 434.8,370.3 438.2,374.5 437.8,375.9 432.7,376.7 432.0,378.8 435.0,383.4 434.5,384.7 429.5,385.0 428.6,387.1 431.3,392.1 430.7,393.3 425.8,393.0 424.8,395.0 427.1,400.3 426.4,401.5 421.6,400.7 420.5,402.5 422.4,408.2 421.7,409.3 417.0,407.9 415.8,409.6 417.3,415.6 416.5,416.6 412.1,414.6 410.8,416.2 411.9,422.4 411.0,423.4 406.8,420.8 405.4,422.3 406.1,428.6 405.2,429.5 401.2,426.4 399.8,427.7 400.0,434.2 399.1,435.0 395.4,431.4 393.9,432.5 393.7,439.1 392.7,439.7 389.4,435.7 387.9,436.7 387.2,443.2 386.2,443.8 383.2,439.3 381.7,440.1 380.5,446.6 379.5,447.1 376.9,442.2 375.4,442.8 373.8,449.2 372.8,449.5 370.6,444.3 369.0,444.7 367.1,451.0 366.0,451.2 364.3,445.6 362.7,445.8 360.3,451.9 359.3,452.0 358.0,446.2 356.5,446.2 353.7,452.0 352.7,452.0 351.8,445.9 350.3,445.7 347.2,451.3 346.2,451.1 345.8,444.9 344.3,444.5 340.9,449.7 340.0,449.4 340.0,443.1 338.6,442.5 334.8,447.4 333.9,446.9 334.4,440.5 333.0,439.7 329.0,444.2 328.2,443.6 329.1,437.2 327.8,436.2 323.6,440.2 322.8,439.6 324.1,433.1 323.0,432.0 318.5,435.5 317.7,434.8 319.6,428.4 318.5,427.1 313.8,430.1 313.2,429.3 315.4,423.0 314.4,421.6 309.6,424.1 309.0,423.1 311.6,417.1 310.8,415.5 305.9,417.4 305.4,416.4 308.4,410.5 307.6,408.8 302.7,410.2 302.3,409.0 305.6,403.5 305.0,401.7 300.1,402.4 299.7,401.2 303.4,396.0 302.9,394.1 298.0,394.3 297.7,393.0 301.7,388.1 301.4,386.1 296.5,385.7 296.3,384.4 300.6,379.9 300.4,377.9 295.6,376.9 295.5,375.5 300.0,371.5 299.9,369.4 295.3,367.8 295.3,366.4 300.0,362.9 300.1,360.7 295.6,358.5 295.7,357.2 300.5,354.1 300.8,351.9 296.5,349.2 296.7,347.8 301.6,345.3 302.0,343.1 298.0,339.9 298.3,338.5 303.3,336.5 303.8,334.3 300.1,330.6 300.5,329.2 305.5,327.8 306.2,325.7 302.8,321.5 303.2,320.1 308.3,319.3 309.0,317.2 306.0,312.6 306.5,311.3 311.5,311.0 312.4,308.9 309.7,303.9 310.3,302.7 315.2,303.0 316.2,301.0 313.9,295.7 314.6,294.5 319.4,295.3 320.5,293.5 318.6,287.8 319.3,286.7 324.0,288.1 325.2,286.4 323.7,280.4 324.5,279.4 328.9,281.4 330.2,279.8 329.1,273.6 330.0,272.6 334.2,275.2 335.6,273.7 334.9,267.4 335.8,266.5 339.8,269.6 341.2,268.3 341.0,261.8 341.9,261.0 345.6,264.6 347.1,263.5 347.3,256.9 348.3,256.3 351.6,260.3 353.1,259.3 353.8,252.8 354.8,252.2 357.8,256.7 359.3,255.9 360.5,249.4 361.5,248.9 364.1,253.8 365.6,253.2 367.2,246.8 368.2,246.5 370.4,251.7 372.0,251.3 373.9,245.0 375.0,244.8 376.7,250.4 378.3,250.2 380.7,244.1 381.7,244.0 383.0,249.8 384.5,249.8 387.3,244.0 388.3,244.0 389.2,250.1 390.7,250.3 393.8,244.7 394.8,244.9 395.2,251.1 396.7,251.5 400.1,246.3 401.0,246.6 401.0,252.9 402.4,253.5 406.2,248.6 407.1,249.1 406.6,255.5 408.0,256.3 412.0,251.8 412.8,252.4 411.9,258.8 413.2,259.8 417.4,255.8 418.2,256.4 416.9,262.9 418.0,264.0 422.5,260.5 423.3,261.2 421.4,267.6 422.5,268.9 427.2,265.9 427.8,266.7 425.6,273.0 426.6,274.4 431.4,271.9 432.0,272.9 429.4,278.9 430.2,280.5 435.1,278.6 435.6,279.6 432.6,285.5 433.4,287.2 438.3,285.8 438.7,287.0 435.4,292.5 436.0,294.3 440.9,293.6 441.3,294.8 437.6,300.0 438.1,301.9 443.0,301.7 443.3,303.0 439.3,307.9 439.6,309.9 444.5,310.3 444.7,311.6 440.4,316.1 440.6,318.1 445.4,319.1 445.5,320.5 441.0,324.5 441.1,326.6 445.7,328.2 445.7,329.6 441.0,333.1 440.9,335.3 445.4,337.5 445.3,338.8 440.5,341.9 440.2,344.1 444.5,346.8 444.3,348.2 439.4,350.7 439.0,352.9 443.0,356.1 442.7,357.5 437.7,359.5 437.2,361.7 440.9,365.4"/></clipPath><g clip-path="url(#c5)">
<path d="M414.0 357.6 L409.0 359.1 L408.3 361.2 L411.7 365.4 L411.3 366.7 L406.2 367.6 L405.5 369.7 L408.5 374.3 L408.0 375.6 L403.0 375.9 L402.1 377.9 L404.8 382.9 L404.2 384.2 L399.3 383.9 L398.3 385.8 L400.6 391.2 L399.9 392.4 L395.1 391.5 L394.0 393.4 L395.9 399.1 L395.2 400.2 L390.5 398.8 L389.3 400.5 L390.9 406.4 L390.1 407.5 L385.6 405.5 L384.3 407.1 L385.4 413.3 L384.5 414.2 L380.3 411.7 L379.0 413.1 L379.6 419.5 L378.7 420.4 L374.7 417.3 L373.3 418.6 L373.5 425.1 L372.6 425.8 L368.9 422.3 L367.4 423.4 L367.2 430.0 L366.2 430.6 L362.9 426.6 L361.4 427.6 L360.7 434.1 L359.7 434.7 L356.7 430.2 L355.2 431.0 L354.0 437.5 L353.0 437.9 L350.5 433.1 L348.9 433.7 L347.3 440.1 L346.3 440.4 L344.1 435.2 L342.5 435.6 L340.6 441.9 L339.6 442.0 L337.8 436.5 L336.2 436.7 L333.9 442.8 L332.8 442.9 L331.5 437.0 L330.0 437.1 L327.2 442.9 L326.2 442.9 L325.3 436.8 L323.8 436.6 L320.7 442.2 L319.7 442.0 L319.3 435.8 L317.8 435.4 L314.4 440.6 L313.5 440.3 L313.5 434.0 L312.1 433.4 L308.3 438.2 L307.4 437.8 L307.9 431.4 L306.5 430.6 L302.5 435.1 L301.7 434.5 L302.6 428.1 L301.3 427.1 L297.1 431.1 L296.3 430.5 L297.6 424.0 L296.5 422.9 L292.0 426.4 L291.3 425.6 L293.1 419.3 L292.0 418.0 L287.3 421.0 L286.7 420.1 L288.9 413.9 L287.9 412.5 L283.1 414.9 L282.5 414.0 L285.2 407.9 L284.3 406.4 L279.4 408.3 L278.9 407.2 L281.9 401.4 L281.2 399.7 L276.2 401.0 L275.8 399.9 L279.1 394.4 L278.5 392.5 L273.6 393.3 L273.2 392.1 L276.9 386.9 L276.4 384.9 L271.5 385.1 L271.2 383.9 L275.2 379.0 L274.9 377.0 L270.0 376.6 L269.8 375.3 L274.1 370.8 L273.9 368.7 L269.1 367.7 L269.0 366.4 L273.5 362.4 L273.4 360.2 L268.8 358.7 L268.8 357.3 L273.5 353.7 L273.6 351.5 L269.1 349.4 L269.2 348.0 L274.0 345.0 L274.3 342.8 L270.0 340.1 L270.2 338.7 L275.2 336.2 L275.5 334.0 L271.5 330.8 L271.8 329.4 L276.8 327.4 L277.3 325.2 L273.6 321.5 L274.0 320.1 L279.0 318.7 L279.7 316.5 L276.3 312.4 L276.7 311.0 L281.8 310.1 L282.6 308.0 L279.5 303.4 L280.0 302.1 L285.0 301.8 L285.9 299.8 L283.2 294.8 L283.8 293.5 L288.7 293.8 L289.7 291.9 L287.4 286.5 L288.1 285.3 L292.9 286.2 L294.0 284.4 L292.1 278.7 L292.8 277.5 L297.5 279.0 L298.7 277.3 L297.2 271.3 L298.0 270.2 L302.4 272.3 L303.7 270.7 L302.6 264.5 L303.5 263.5 L307.7 266.1 L309.1 264.6 L308.4 258.3 L309.3 257.4 L313.3 260.4 L314.7 259.1 L314.5 252.7 L315.4 251.9 L319.1 255.5 L320.6 254.3 L320.8 247.8 L321.8 247.1 L325.1 251.2 L326.7 250.2 L327.3 243.6 L328.3 243.1 L331.3 247.6 L332.9 246.8 L334.0 240.3 L335.0 239.8 L337.6 244.7 L339.1 244.1 L340.7 237.7 L341.7 237.3 L343.9 242.6 L345.5 242.2 L347.5 235.9 L348.5 235.7 L350.2 241.3 L351.8 241.0 L354.2 234.9 L355.2 234.9 L356.5 240.7 L358.1 240.7 L360.8 234.8 L361.8 234.9 L362.7 240.9 L364.2 241.1 L367.3 235.6 L368.3 235.7 L368.7 242.0 L370.2 242.4 L373.6 237.1 L374.6 237.4 L374.5 243.8 L376.0 244.4 L379.7 239.5 L380.6 239.9 L380.1 246.4 L381.5 247.1 L385.5 242.7 L386.3 243.2 L385.4 249.7 L386.7 250.6 L391.0 246.6 L391.7 247.3 L390.4 253.7 L391.6 254.8 L396.0 251.3 L396.8 252.1 L395.0 258.5 L396.0 259.7 L400.7 256.7 L401.4 257.6 L399.1 263.8 L400.1 265.3 L404.9 262.8 L405.5 263.8 L402.9 269.8 L403.7 271.4 L408.6 269.5 L409.1 270.5 L406.1 276.3 L406.9 278.1 L411.8 276.7 L412.2 277.8 L408.9 283.4 L409.5 285.2 L414.5 284.4 L414.8 285.6 L411.1 290.9 L411.6 292.8 L416.5 292.6 L416.8 293.9 L412.8 298.7 L413.2 300.8 L418.0 301.2 L418.2 302.5 L414.0 306.9 L414.2 309.0 L418.9 310.0 L419.0 311.4 L414.5 315.4 L414.6 317.5 L419.2 319.1 L419.2 320.5 L414.5 324.0 L414.5 326.2 L418.9 328.3 L418.8 329.7 L414.0 332.8 L413.8 335.0 L418.0 337.7 L417.8 339.1 L412.9 341.6 L412.5 343.8 L416.5 347.0 L416.2 348.4 L411.2 350.4 L410.7 352.6 L414.4 356.3 Z" fill="none" stroke="#111" stroke-width="1.0" stroke-linejoin="round" stroke-linecap="round" />
<line x1="435.5" y1="368.2" x2="409.0" y2="359.1" stroke="#111" stroke-width="1.0"/>
<line x1="434.8" y1="370.3" x2="408.3" y2="361.2" stroke="#111" stroke-width="1.0"/>
<line x1="432.7" y1="376.7" x2="406.2" y2="367.6" stroke="#111" stroke-width="1.0"/>
<line x1="432.0" y1="378.8" x2="405.5" y2="369.7" stroke="#111" stroke-width="1.0"/>
<line x1="429.5" y1="385.0" x2="403.0" y2="375.9" stroke="#111" stroke-width="1.0"/>
<line x1="428.6" y1="387.1" x2="402.1" y2="377.9" stroke="#111" stroke-width="1.0"/>
<line x1="425.8" y1="393.0" x2="399.3" y2="383.9" stroke="#111" stroke-width="1.0"/>
<line x1="424.8" y1="395.0" x2="398.3" y2="385.8" stroke="#111" stroke-width="1.0"/>
<line x1="421.6" y1="400.7" x2="395.1" y2="391.5" stroke="#111" stroke-width="1.0"/>
<line x1="420.5" y1="402.5" x2="394.0" y2="393.4" stroke="#111" stroke-width="1.0"/>
<line x1="417.0" y1="407.9" x2="390.5" y2="398.8" stroke="#111" stroke-width="1.0"/>
<line x1="415.8" y1="409.6" x2="389.3" y2="400.5" stroke="#111" stroke-width="1.0"/>
<line x1="412.1" y1="414.6" x2="385.6" y2="405.5" stroke="#111" stroke-width="1.0"/>
<line x1="410.8" y1="416.2" x2="384.3" y2="407.1" stroke="#111" stroke-width="1.0"/>
<line x1="406.8" y1="420.8" x2="380.3" y2="411.7" stroke="#111" stroke-width="1.0"/>
<line x1="405.4" y1="422.3" x2="379.0" y2="413.1" stroke="#111" stroke-width="1.0"/>
<line x1="401.2" y1="426.4" x2="374.7" y2="417.3" stroke="#111" stroke-width="1.0"/>
<line x1="399.8" y1="427.7" x2="373.3" y2="418.6" stroke="#111" stroke-width="1.0"/>
<line x1="395.4" y1="431.4" x2="368.9" y2="422.3" stroke="#111" stroke-width="1.0"/>
<line x1="393.9" y1="432.5" x2="367.4" y2="423.4" stroke="#111" stroke-width="1.0"/>
<line x1="389.4" y1="435.7" x2="362.9" y2="426.6" stroke="#111" stroke-width="1.0"/>
<line x1="387.9" y1="436.7" x2="361.4" y2="427.6" stroke="#111" stroke-width="1.0"/>
<line x1="383.2" y1="439.3" x2="356.7" y2="430.2" stroke="#111" stroke-width="1.0"/>
<line x1="381.7" y1="440.1" x2="355.2" y2="431.0" stroke="#111" stroke-width="1.0"/>
<line x1="376.9" y1="442.2" x2="350.5" y2="433.1" stroke="#111" stroke-width="1.0"/>
<line x1="375.4" y1="442.8" x2="348.9" y2="433.7" stroke="#111" stroke-width="1.0"/>
<line x1="370.6" y1="444.3" x2="344.1" y2="435.2" stroke="#111" stroke-width="1.0"/>
<line x1="369.0" y1="444.7" x2="342.5" y2="435.6" stroke="#111" stroke-width="1.0"/>
<line x1="364.3" y1="445.6" x2="337.8" y2="436.5" stroke="#111" stroke-width="1.0"/>
<line x1="362.7" y1="445.8" x2="336.2" y2="436.7" stroke="#111" stroke-width="1.0"/>
<line x1="358.0" y1="446.2" x2="331.5" y2="437.0" stroke="#111" stroke-width="1.0"/>
<line x1="356.5" y1="446.2" x2="330.0" y2="437.1" stroke="#111" stroke-width="1.0"/>
<line x1="351.8" y1="445.9" x2="325.3" y2="436.8" stroke="#111" stroke-width="1.0"/>
<line x1="350.3" y1="445.7" x2="323.8" y2="436.6" stroke="#111" stroke-width="1.0"/>
<line x1="345.8" y1="444.9" x2="319.3" y2="435.8" stroke="#111" stroke-width="1.0"/>
<line x1="344.3" y1="444.5" x2="317.8" y2="435.4" stroke="#111" stroke-width="1.0"/>
<line x1="340.0" y1="443.1" x2="313.5" y2="434.0" stroke="#111" stroke-width="1.0"/>
<line x1="338.6" y1="442.5" x2="312.1" y2="433.4" stroke="#111" stroke-width="1.0"/>
<line x1="334.4" y1="440.5" x2="307.9" y2="431.4" stroke="#111" stroke-width="1.0"/>
<line x1="333.0" y1="439.7" x2="306.5" y2="430.6" stroke="#111" stroke-width="1.0"/>
<line x1="329.1" y1="437.2" x2="302.6" y2="428.1" stroke="#111" stroke-width="1.0"/>
<line x1="327.8" y1="436.2" x2="301.3" y2="427.1" stroke="#111" stroke-width="1.0"/>
<line x1="324.1" y1="433.1" x2="297.6" y2="424.0" stroke="#111" stroke-width="1.0"/>
<line x1="323.0" y1="432.0" x2="296.5" y2="422.9" stroke="#111" stroke-width="1.0"/>
<line x1="319.6" y1="428.4" x2="293.1" y2="419.3" stroke="#111" stroke-width="1.0"/>
<line x1="318.5" y1="427.1" x2="292.0" y2="418.0" stroke="#111" stroke-width="1.0"/>
<line x1="315.4" y1="423.0" x2="288.9" y2="413.9" stroke="#111" stroke-width="1.0"/>
<line x1="314.4" y1="421.6" x2="287.9" y2="412.5" stroke="#111" stroke-width="1.0"/>
<line x1="311.6" y1="417.1" x2="285.2" y2="407.9" stroke="#111" stroke-width="1.0"/>
<line x1="310.8" y1="415.5" x2="284.3" y2="406.4" stroke="#111" stroke-width="1.0"/>
<line x1="308.4" y1="410.5" x2="281.9" y2="401.4" stroke="#111" stroke-width="1.0"/>
<line x1="307.6" y1="408.8" x2="281.2" y2="399.7" stroke="#111" stroke-width="1.0"/>
<line x1="305.6" y1="403.5" x2="279.1" y2="394.4" stroke="#111" stroke-width="1.0"/>
<line x1="305.0" y1="401.7" x2="278.5" y2="392.5" stroke="#111" stroke-width="1.0"/>
<line x1="303.4" y1="396.0" x2="276.9" y2="386.9" stroke="#111" stroke-width="1.0"/>
<line x1="302.9" y1="394.1" x2="276.4" y2="384.9" stroke="#111" stroke-width="1.0"/>
<line x1="301.7" y1="388.1" x2="275.2" y2="379.0" stroke="#111" stroke-width="1.0"/>
<line x1="301.4" y1="386.1" x2="274.9" y2="377.0" stroke="#111" stroke-width="1.0"/>
<line x1="300.6" y1="379.9" x2="274.1" y2="370.8" stroke="#111" stroke-width="1.0"/>
<line x1="300.4" y1="377.9" x2="273.9" y2="368.7" stroke="#111" stroke-width="1.0"/>
<line x1="300.0" y1="371.5" x2="273.5" y2="362.4" stroke="#111" stroke-width="1.0"/>
<line x1="299.9" y1="369.4" x2="273.4" y2="360.2" stroke="#111" stroke-width="1.0"/>
<line x1="300.0" y1="362.9" x2="273.5" y2="353.7" stroke="#111" stroke-width="1.0"/>
<line x1="300.1" y1="360.7" x2="273.6" y2="351.5" stroke="#111" stroke-width="1.0"/>
<line x1="300.5" y1="354.1" x2="274.0" y2="345.0" stroke="#111" stroke-width="1.0"/>
<line x1="300.8" y1="351.9" x2="274.3" y2="342.8" stroke="#111" stroke-width="1.0"/>
<line x1="301.6" y1="345.3" x2="275.2" y2="336.2" stroke="#111" stroke-width="1.0"/>
<line x1="302.0" y1="343.1" x2="275.5" y2="334.0" stroke="#111" stroke-width="1.0"/>
<line x1="303.3" y1="336.5" x2="276.8" y2="327.4" stroke="#111" stroke-width="1.0"/>
<line x1="303.8" y1="334.3" x2="277.3" y2="325.2" stroke="#111" stroke-width="1.0"/>
<line x1="305.5" y1="327.8" x2="279.0" y2="318.7" stroke="#111" stroke-width="1.0"/>
<line x1="306.2" y1="325.7" x2="279.7" y2="316.5" stroke="#111" stroke-width="1.0"/>
<line x1="308.3" y1="319.3" x2="281.8" y2="310.1" stroke="#111" stroke-width="1.0"/>
<line x1="309.0" y1="317.2" x2="282.6" y2="308.0" stroke="#111" stroke-width="1.0"/>
<line x1="311.5" y1="311.0" x2="285.0" y2="301.8" stroke="#111" stroke-width="1.0"/>
<line x1="312.4" y1="308.9" x2="285.9" y2="299.8" stroke="#111" stroke-width="1.0"/>
<line x1="315.2" y1="303.0" x2="288.7" y2="293.8" stroke="#111" stroke-width="1.0"/>
<line x1="316.2" y1="301.0" x2="289.7" y2="291.9" stroke="#111" stroke-width="1.0"/>
<line x1="319.4" y1="295.3" x2="292.9" y2="286.2" stroke="#111" stroke-width="1.0"/>
<line x1="320.5" y1="293.5" x2="294.0" y2="284.4" stroke="#111" stroke-width="1.0"/>
<line x1="324.0" y1="288.1" x2="297.5" y2="279.0" stroke="#111" stroke-width="1.0"/>
<line x1="325.2" y1="286.4" x2="298.7" y2="277.3" stroke="#111" stroke-width="1.0"/>
<line x1="328.9" y1="281.4" x2="302.4" y2="272.3" stroke="#111" stroke-width="1.0"/>
<line x1="330.2" y1="279.8" x2="303.7" y2="270.7" stroke="#111" stroke-width="1.0"/>
<line x1="334.2" y1="275.2" x2="307.7" y2="266.1" stroke="#111" stroke-width="1.0"/>
<line x1="335.6" y1="273.7" x2="309.1" y2="264.6" stroke="#111" stroke-width="1.0"/>
<line x1="339.8" y1="269.6" x2="313.3" y2="260.4" stroke="#111" stroke-width="1.0"/>
<line x1="341.2" y1="268.3" x2="314.7" y2="259.1" stroke="#111" stroke-width="1.0"/>
<line x1="345.6" y1="264.6" x2="319.1" y2="255.5" stroke="#111" stroke-width="1.0"/>
<line x1="347.1" y1="263.5" x2="320.6" y2="254.3" stroke="#111" stroke-width="1.0"/>
<line x1="351.6" y1="260.3" x2="325.1" y2="251.2" stroke="#111" stroke-width="1.0"/>
<line x1="353.1" y1="259.3" x2="326.7" y2="250.2" stroke="#111" stroke-width="1.0"/>
<line x1="357.8" y1="256.7" x2="331.3" y2="247.6" stroke="#111" stroke-width="1.0"/>
<line x1="359.3" y1="255.9" x2="332.9" y2="246.8" stroke="#111" stroke-width="1.0"/>
<line x1="364.1" y1="253.8" x2="337.6" y2="244.7" stroke="#111" stroke-width="1.0"/>
<line x1="365.6" y1="253.2" x2="339.1" y2="244.1" stroke="#111" stroke-width="1.0"/>
<line x1="370.4" y1="251.7" x2="343.9" y2="242.6" stroke="#111" stroke-width="1.0"/>
<line x1="372.0" y1="251.3" x2="345.5" y2="242.2" stroke="#111" stroke-width="1.0"/>
<line x1="376.7" y1="250.4" x2="350.2" y2="241.3" stroke="#111" stroke-width="1.0"/>
<line x1="378.3" y1="250.2" x2="351.8" y2="241.0" stroke="#111" stroke-width="1.0"/>
<line x1="383.0" y1="249.8" x2="356.5" y2="240.7" stroke="#111" stroke-width="1.0"/>
<line x1="384.5" y1="249.8" x2="358.1" y2="240.7" stroke="#111" stroke-width="1.0"/>
<line x1="389.2" y1="250.1" x2="362.7" y2="240.9" stroke="#111" stroke-width="1.0"/>
<line x1="390.7" y1="250.3" x2="364.2" y2="241.1" stroke="#111" stroke-width="1.0"/>
<line x1="395.2" y1="251.1" x2="368.7" y2="242.0" stroke="#111" stroke-width="1.0"/>
<line x1="396.7" y1="251.5" x2="370.2" y2="242.4" stroke="#111" stroke-width="1.0"/>
<line x1="401.0" y1="252.9" x2="374.5" y2="243.8" stroke="#111" stroke-width="1.0"/>
<line x1="402.4" y1="253.5" x2="376.0" y2="244.4" stroke="#111" stroke-width="1.0"/>
<line x1="406.6" y1="255.5" x2="380.1" y2="246.4" stroke="#111" stroke-width="1.0"/>
<line x1="408.0" y1="256.3" x2="381.5" y2="247.1" stroke="#111" stroke-width="1.0"/>
<line x1="411.9" y1="258.8" x2="385.4" y2="249.7" stroke="#111" stroke-width="1.0"/>
<line x1="413.2" y1="259.8" x2="386.7" y2="250.6" stroke="#111" stroke-width="1.0"/>
<line x1="416.9" y1="262.9" x2="390.4" y2="253.7" stroke="#111" stroke-width="1.0"/>
<line x1="418.0" y1="264.0" x2="391.6" y2="254.8" stroke="#111" stroke-width="1.0"/>
<line x1="421.4" y1="267.6" x2="395.0" y2="258.5" stroke="#111" stroke-width="1.0"/>
<line x1="422.5" y1="268.9" x2="396.0" y2="259.7" stroke="#111" stroke-width="1.0"/>
<line x1="425.6" y1="273.0" x2="399.1" y2="263.8" stroke="#111" stroke-width="1.0"/>
<line x1="426.6" y1="274.4" x2="400.1" y2="265.3" stroke="#111" stroke-width="1.0"/>
<line x1="429.4" y1="278.9" x2="402.9" y2="269.8" stroke="#111" stroke-width="1.0"/>
<line x1="430.2" y1="280.5" x2="403.7" y2="271.4" stroke="#111" stroke-width="1.0"/>
<line x1="432.6" y1="285.5" x2="406.1" y2="276.3" stroke="#111" stroke-width="1.0"/>
<line x1="433.4" y1="287.2" x2="406.9" y2="278.1" stroke="#111" stroke-width="1.0"/>
<line x1="435.4" y1="292.5" x2="408.9" y2="283.4" stroke="#111" stroke-width="1.0"/>
<line x1="436.0" y1="294.3" x2="409.5" y2="285.2" stroke="#111" stroke-width="1.0"/>
<line x1="437.6" y1="300.0" x2="411.1" y2="290.9" stroke="#111" stroke-width="1.0"/>
<line x1="438.1" y1="301.9" x2="411.6" y2="292.8" stroke="#111" stroke-width="1.0"/>
<line x1="439.3" y1="307.9" x2="412.8" y2="298.7" stroke="#111" stroke-width="1.0"/>
<line x1="439.6" y1="309.9" x2="413.2" y2="300.8" stroke="#111" stroke-width="1.0"/>
<line x1="440.4" y1="316.1" x2="414.0" y2="306.9" stroke="#111" stroke-width="1.0"/>
<line x1="440.6" y1="318.1" x2="414.2" y2="309.0" stroke="#111" stroke-width="1.0"/>
<line x1="441.0" y1="324.5" x2="414.5" y2="315.4" stroke="#111" stroke-width="1.0"/>
<line x1="441.1" y1="326.6" x2="414.6" y2="317.5" stroke="#111" stroke-width="1.0"/>
<line x1="441.0" y1="333.1" x2="414.5" y2="324.0" stroke="#111" stroke-width="1.0"/>
<line x1="440.9" y1="335.3" x2="414.5" y2="326.2" stroke="#111" stroke-width="1.0"/>
<line x1="440.5" y1="341.9" x2="414.0" y2="332.8" stroke="#111" stroke-width="1.0"/>
<line x1="440.2" y1="344.1" x2="413.8" y2="335.0" stroke="#111" stroke-width="1.0"/>
<line x1="439.4" y1="350.7" x2="412.9" y2="341.6" stroke="#111" stroke-width="1.0"/>
<line x1="439.0" y1="352.9" x2="412.5" y2="343.8" stroke="#111" stroke-width="1.0"/>
<line x1="437.7" y1="359.5" x2="411.2" y2="350.4" stroke="#111" stroke-width="1.0"/>
<line x1="437.2" y1="361.7" x2="410.7" y2="352.6" stroke="#111" stroke-width="1.0"/>
</g>
<path d="M730.0 351.0 C732.9 353.0 742.8 357.5 747.6 362.8 C752.5 368.1 756.1 375.5 759.1 382.7 C762.1 389.9 764.3 397.8 765.8 405.8 C767.3 413.8 768.0 423.3 768.2 430.7 C768.4 438.1 767.9 442.8 767.1 450.0 C766.3 457.2 766.0 465.1 763.6 474.1 C761.2 483.1 757.1 495.7 753.0 504.2 C748.9 512.7 741.2 521.8 738.9 525.3" fill="none" stroke="#111" stroke-width="1.1" stroke-linejoin="round" stroke-linecap="round" />
<path d="M732.0 356.0 C734.0 357.7 740.2 361.2 744.0 366.0 C747.8 370.8 752.1 378.2 755.0 385.0 C757.9 391.8 760.0 399.5 761.5 407.0 C763.0 414.5 763.8 422.5 764.0 430.0 C764.2 437.5 763.8 444.7 763.0 452.0 C762.2 459.3 761.7 466.0 759.5 474.0 C757.3 482.0 751.6 495.7 750.0 500.0" fill="none" stroke="#111" stroke-width="0.7" stroke-linejoin="round" stroke-linecap="round" />
<path d="M726.0 322.3 C726.1 326.3 726.2 341.2 726.9 346.3 C727.6 351.4 728.1 347.9 730.2 352.9 C732.3 357.8 736.7 368.6 739.3 376.0 C741.9 383.4 744.2 389.9 745.9 397.6 C747.5 405.3 748.6 414.5 749.2 422.4 C749.8 430.3 749.7 437.1 749.5 445.0 C749.3 452.9 749.2 460.1 748.0 470.0 C746.8 479.9 744.4 494.4 742.4 504.2 C740.4 514.0 737.7 522.1 736.2 528.9 C734.7 535.7 734.0 538.7 733.6 544.8 C733.2 550.9 733.7 562.2 733.7 565.7" fill="none" stroke="#111" stroke-width="1.2" stroke-linejoin="round" stroke-linecap="round" />
<path d="M733.7 565.7 L722.8 571.1 L716.0 572.0 L712.0 575.0 L706.0 572.0 L700.0 575.0 L694.0 572.0 L688.7 573.5 L682.5 577.3 L681.0 585.1 L676.0 590.0 L653.1 599.0" fill="none" stroke="#111" stroke-width="1.1" stroke-linejoin="round" stroke-linecap="round" />
<path d="M653.1 599.0 L651.5 574.2" fill="none" stroke="#111" stroke-width="1.0" stroke-linejoin="round" stroke-linecap="round" />
<path d="M651.5 574.2 C651.0 573.9 649.8 572.2 648.5 572.2 C647.2 572.2 645.3 572.8 643.8 574.2 C642.2 575.6 641.0 579.1 639.2 580.4 C637.4 581.7 635.1 581.9 633.0 582.0 C630.9 582.1 627.8 581.2 626.8 581.0" fill="none" stroke="#111" stroke-width="1.0" stroke-linejoin="round" stroke-linecap="round" />
<path d="M653.1 599.0 L597.0 579.0" fill="none" stroke="#111" stroke-width="1.1" stroke-linejoin="round" stroke-linecap="round" />
<path d="M597.0 579.0 L595.8 571.1 L574.1 564.9 L574.7 576.5 L597.0 579.0" fill="none" stroke="#111" stroke-width="1.0" stroke-linejoin="round" stroke-linecap="round" />
<path d="M574.1 564.9 C573.9 564.5 574.8 564.0 572.6 562.5 C570.4 561.0 564.6 559.2 561.0 555.9 C557.4 552.6 554.4 547.6 551.1 542.6 C547.8 537.6 543.7 530.8 541.2 526.1 C538.7 521.4 537.3 518.0 536.2 514.5 C535.1 511.0 536.0 507.3 534.6 504.9 C533.2 502.5 529.8 502.4 527.9 499.9 C526.0 497.4 524.1 494.2 523.3 489.7 C522.5 485.2 522.2 477.8 523.0 473.1 C523.8 468.4 526.2 467.0 527.9 461.5 C529.5 456.0 531.5 446.0 532.9 440.0 C534.3 434.0 535.1 430.8 536.5 425.7 C537.9 420.6 539.3 414.6 541.5 409.1 C543.7 403.6 546.8 398.7 549.8 392.6 C552.8 386.5 556.7 378.5 559.7 372.7 C562.7 366.9 566.4 361.4 568.0 357.8 C569.6 354.2 568.1 353.8 569.6 351.2 C571.1 348.6 574.5 344.9 577.0 342.0 C579.5 339.1 583.2 335.2 584.5 333.9" fill="none" stroke="#111" stroke-width="1.2" stroke-linejoin="round" stroke-linecap="round" />
<path d="M584.5 333.9 L663.2 300.8 L726.0 322.3" fill="none" stroke="#111" stroke-width="1.2" stroke-linejoin="round" stroke-linecap="round" />
<path d="M584.5 333.9 L647.0 356.0" fill="none" stroke="#111" stroke-width="1.1" stroke-linejoin="round" stroke-linecap="round" />
<path d="M647.0 356.0 L650.0 354.5" fill="none" stroke="#111" stroke-width="1.0" stroke-linejoin="round" stroke-linecap="round" />
<path d="M676.0 345.5 L726.0 322.3" fill="none" stroke="#111" stroke-width="1.1" stroke-linejoin="round" stroke-linecap="round" />
<path d="M650.0 337.5 L671.4 325.6 L700.0 334.7 L690.0 346.3 L679.7 352.9 L674.0 350.0 L660.0 350.0 L650.0 337.5" fill="none" stroke="#111" stroke-width="1.1" stroke-linejoin="round" stroke-linecap="round" />
<path d="M656.0 337.0 L673.0 328.0 L694.0 335.5" fill="none" stroke="#111" stroke-width="0.8" stroke-linejoin="round" stroke-linecap="round" />
<path d="M664.0 343.0 L683.0 333.0 L690.0 337.0" fill="none" stroke="#111" stroke-width="0.7" stroke-linejoin="round" stroke-linecap="round" />
<ellipse cx="602.7" cy="334.7" rx="3.8" ry="1.9" transform="rotate(-3.0 602.7 334.7)" fill="none" stroke="#111" stroke-width="1.0"/>
<ellipse cx="615.2" cy="339.3" rx="3.8" ry="1.9" transform="rotate(-3.0 615.2 339.3)" fill="none" stroke="#111" stroke-width="1.0"/>
<ellipse cx="645.8" cy="350.4" rx="3.8" ry="1.9" transform="rotate(-3.0 645.8 350.4)" fill="none" stroke="#111" stroke-width="1.0"/>
<ellipse cx="679.7" cy="312.3" rx="3.8" ry="1.9" transform="rotate(-3.0 679.7 312.3)" fill="none" stroke="#111" stroke-width="1.0"/>
<ellipse cx="691.3" cy="316.5" rx="3.8" ry="1.9" transform="rotate(-3.0 691.3 316.5)" fill="none" stroke="#111" stroke-width="1.0"/>
<ellipse cx="711.2" cy="323.9" rx="3.8" ry="1.9" transform="rotate(-3.0 711.2 323.9)" fill="none" stroke="#111" stroke-width="1.0"/>
<ellipse cx="714.5" cy="312.5" rx="2.6" ry="2.2" transform="rotate(0.0 714.5 312.5)" fill="none" stroke="#111" stroke-width="1.0"/>
<path d="M711.9 312.5 L711.9 316.0 L717.1 316.5 L717.1 312.5" fill="none" stroke="#111" stroke-width="1.0" stroke-linejoin="round" stroke-linecap="round" />
<path d="M647.0 356.0 C647.1 360.4 648.7 377.7 647.4 382.7 C646.1 387.7 642.7 385.2 639.1 386.0 C635.5 386.8 629.2 386.5 625.9 387.6 C622.6 388.7 620.9 390.1 619.3 392.6 C617.6 395.1 616.5 398.9 616.0 402.5 C615.5 406.1 615.5 410.2 616.0 414.1 C616.5 418.0 618.2 422.4 619.3 425.7 C620.4 429.0 621.8 431.5 622.6 434.0 C623.4 436.5 624.8 438.0 624.2 440.6 C623.6 443.2 621.5 446.8 618.9 449.4 C616.2 452.0 611.8 454.7 608.3 456.5 C604.8 458.3 601.2 458.5 597.7 460.0 C594.2 461.5 590.1 461.5 587.1 465.3 C584.1 469.1 581.5 476.5 580.0 483.0 C578.5 489.5 578.0 497.1 578.3 504.2 C578.6 511.2 580.0 520.0 581.8 525.3 C583.6 530.6 585.7 533.8 588.9 535.9 C592.1 538.0 597.4 538.6 601.2 537.7 C605.0 536.8 608.3 532.1 611.8 530.6 C615.3 529.1 619.8 528.0 622.4 528.9 C625.0 529.8 626.5 531.8 627.7 535.9 C628.9 540.0 629.5 548.3 629.5 553.6 C629.5 558.9 628.2 563.1 627.7 567.7 C627.2 572.3 626.9 578.8 626.8 581.0" fill="none" stroke="#111" stroke-width="1.1" stroke-linejoin="round" stroke-linecap="round" />
<path d="M588.3 335.3 C586.1 338.2 577.5 347.9 575.0 352.5 C572.6 357.2 575.3 359.1 573.7 363.1 C572.2 367.1 568.2 371.5 565.8 376.4 C563.3 381.2 561.3 386.7 559.1 392.3 C556.9 397.8 554.5 403.7 552.5 409.5 C550.5 415.2 548.8 422.3 547.2 426.7 C545.7 431.1 543.9 434.4 543.2 436.0" fill="none" stroke="#111" stroke-width="0.9" stroke-linejoin="round" stroke-linecap="round" />
<path d="M590.9 337.9 C588.7 340.6 580.0 349.4 577.7 353.8 C575.4 358.3 578.3 360.9 577.0 364.4 C575.7 368.0 570.9 373.3 569.7 375.0" fill="none" stroke="#111" stroke-width="0.8" stroke-linejoin="round" stroke-linecap="round" />
<path d="M568.4 351.2 L575.0 352.5 L573.7 363.1 L568.4 360.5" fill="none" stroke="#111" stroke-width="0.9" stroke-linejoin="round" stroke-linecap="round" />
<path d="M589.6 338.2 L630.0 351.2" fill="none" stroke="#111" stroke-width="0.9" stroke-linejoin="round" stroke-linecap="round" />
<path d="M590.9 347.2 L620.1 359.1 L621.4 376.4" fill="none" stroke="#111" stroke-width="0.9" stroke-linejoin="round" stroke-linecap="round" />
<path d="M580.3 365.8 L621.4 376.6" fill="none" stroke="#111" stroke-width="0.9" stroke-linejoin="round" stroke-linecap="round" />
<path d="M614.8 358.5 L616.1 375.0" fill="none" stroke="#111" stroke-width="0.7" stroke-linejoin="round" stroke-linecap="round" />
<path d="M610.8 357.2 L611.5 373.7" fill="none" stroke="#111" stroke-width="0.6" stroke-linejoin="round" stroke-linecap="round" />
<path d="M579.0 363.8 L590.9 347.2" fill="none" stroke="#111" stroke-width="0.8" stroke-linejoin="round" stroke-linecap="round" />
<path d="M569.7 368.4 C574.6 370.0 588.8 375.3 598.9 377.7 C608.9 380.1 624.8 382.1 630.0 383.0" fill="none" stroke="#111" stroke-width="0.9" stroke-linejoin="round" stroke-linecap="round" />
<path d="M564.4 375.0 C563.8 378.1 561.8 385.6 560.5 393.6 C559.1 401.5 557.8 415.7 556.5 422.7 C555.2 429.8 553.2 433.8 552.5 436.0" fill="none" stroke="#111" stroke-width="0.9" stroke-linejoin="round" stroke-linecap="round" />
<path d="M569.7 408.1 C569.7 403.5 569.1 385.3 569.7 380.3 C570.4 375.4 572.3 378.5 573.7 378.3 C575.1 378.2 577.0 378.5 578.3 379.3 C579.7 380.0 581.2 380.8 581.9 383.0 C582.6 385.1 582.5 389.4 582.7 392.3 C582.9 395.1 583.0 398.2 583.2 400.2 C583.5 402.2 584.7 402.6 584.3 404.2 C583.9 405.7 583.4 408.8 581.0 409.5 C578.6 410.1 571.6 408.4 569.7 408.1" fill="none" stroke="#111" stroke-width="1.0" stroke-linejoin="round" stroke-linecap="round" />
<path d="M574.4 387.0 C574.7 386.6 575.5 385.1 576.4 385.0 C577.2 384.9 578.7 385.1 579.3 386.3 C579.9 387.5 580.1 390.2 580.1 392.3 C580.1 394.3 579.8 397.4 579.3 398.9 C578.7 400.3 577.4 400.9 576.6 400.9 C575.8 400.9 574.8 400.3 574.4 398.9 C573.9 397.4 574.0 394.2 574.0 392.3 C574.0 390.3 574.3 387.8 574.4 387.0" fill="none" stroke="#111" stroke-width="0.7" stroke-linejoin="round" stroke-linecap="round" />
<path d="M562.3 414.1 Q562.5 408.1 568.3 409.4 L581.1 412.0 Q587.0 413.2 590.4 417.3 L590.4 417.3 Q593.8 421.4 592.7 427.3 L592.4 428.8 Q591.2 434.6 585.2 433.8 L567.7 431.5 Q561.8 430.7 562.0 424.7 Z" fill="none" stroke="#111" stroke-width="1.1" stroke-linejoin="round" stroke-linecap="round" />
<path d="M566.9 417.8 Q567.1 412.8 572.0 413.8 L580.7 415.7 Q585.6 416.8 587.9 420.1 L587.9 420.1 Q590.3 423.4 589.1 427.8 L589.1 427.8 Q588.0 432.3 583.1 431.4 L571.4 429.5 Q566.4 428.7 566.6 423.7 Z" fill="none" stroke="#111" stroke-width="0.8" stroke-linejoin="round" stroke-linecap="round" />
<path d="M560.5 392.3 L558.5 436.0" fill="none" stroke="#111" stroke-width="0.6" stroke-linejoin="round" stroke-linecap="round" />
<path d="M563.8 392.3 L561.8 436.0" fill="none" stroke="#111" stroke-width="0.6" stroke-linejoin="round" stroke-linecap="round" />
<path d="M566.7 392.3 L564.7 436.0" fill="none" stroke="#111" stroke-width="0.6" stroke-linejoin="round" stroke-linecap="round" />
<path d="M569.7 392.3 L567.7 436.0" fill="none" stroke="#111" stroke-width="0.6" stroke-linejoin="round" stroke-linecap="round" />
<path d="M556.5 405.5 L569.7 408.1" fill="none" stroke="#111" stroke-width="0.6" stroke-linejoin="round" stroke-linecap="round" />
<path d="M553.8 428.0 L563.1 430.7" fill="none" stroke="#111" stroke-width="0.6" stroke-linejoin="round" stroke-linecap="round" />
<path d="M583.0 394.9 L622.7 404.2" fill="none" stroke="#111" stroke-width="0.8" stroke-linejoin="round" stroke-linecap="round" />
<path d="M584.3 402.2 L622.7 412.1" fill="none" stroke="#111" stroke-width="0.8" stroke-linejoin="round" stroke-linecap="round" />
<path d="M543.2 436.0 C551.6 436.6 580.8 437.6 593.6 439.9 C606.4 442.3 615.7 448.3 620.1 450.0" fill="none" stroke="#111" stroke-width="0.9" stroke-linejoin="round" stroke-linecap="round" />
<path d="M609.5 414.8 L605.5 450.0" fill="none" stroke="#111" stroke-width="0.8" stroke-linejoin="round" stroke-linecap="round" />
<path d="M533.7 456.6 C533.8 460.7 534.1 473.7 534.2 481.4 C534.4 489.1 534.5 499.3 534.6 502.9" fill="none" stroke="#111" stroke-width="0.9" stroke-linejoin="round" stroke-linecap="round" />
<path d="M557.7 441.7 C555.3 443.6 546.1 449.9 542.8 453.2 C539.5 456.6 539.0 456.8 537.9 461.5 C536.8 466.2 536.2 473.9 536.2 481.4 C536.2 488.8 536.8 499.3 537.9 506.2 C539.0 513.1 540.6 518.8 542.8 522.8 C545.0 526.8 549.7 529.0 551.1 530.2" fill="none" stroke="#111" stroke-width="1.0" stroke-linejoin="round" stroke-linecap="round" />
<path d="M532.9 454.9 L584.2 471.5" fill="none" stroke="#111" stroke-width="0.9" stroke-linejoin="round" stroke-linecap="round" />
<path d="M542.8 458.2 L583.4 472.3" fill="none" stroke="#111" stroke-width="0.7" stroke-linejoin="round" stroke-linecap="round" />
<path d="M542.8 522.8 L590.8 539.3" fill="none" stroke="#111" stroke-width="0.9" stroke-linejoin="round" stroke-linecap="round" />
<path d="M547.8 527.7 L595.8 543.0" fill="none" stroke="#111" stroke-width="0.8" stroke-linejoin="round" stroke-linecap="round" />
<path d="M567.7 536.0 L594.2 543.0 L595.8 546.0" fill="none" stroke="#111" stroke-width="0.8" stroke-linejoin="round" stroke-linecap="round" />
<path d="M581.7 542.6 L580.9 565.8" fill="none" stroke="#111" stroke-width="0.8" stroke-linejoin="round" stroke-linecap="round" />
<path d="M585.1 543.5 L584.2 565.8" fill="none" stroke="#111" stroke-width="0.7" stroke-linejoin="round" stroke-linecap="round" />
<path d="M572.6 547.6 L624.0 559.2" fill="none" stroke="#111" stroke-width="0.8" stroke-linejoin="round" stroke-linecap="round" />
<path d="M571.0 554.2 L624.0 566.7" fill="none" stroke="#111" stroke-width="0.8" stroke-linejoin="round" stroke-linecap="round" />
<path d="M551.1 532.7 L557.7 546.0 L566.0 555.9" fill="none" stroke="#111" stroke-width="0.7" stroke-linejoin="round" stroke-linecap="round" />
<path d="M556.1 531.1 L562.7 542.6 L571.0 552.6" fill="none" stroke="#111" stroke-width="0.6" stroke-linejoin="round" stroke-linecap="round" />
<path d="M604.1 539.3 C605.2 540.4 608.5 543.2 610.7 546.0 C612.9 548.7 616.2 554.2 617.3 555.9" fill="none" stroke="#111" stroke-width="0.7" stroke-linejoin="round" stroke-linecap="round" />
<ellipse cx="707.0" cy="343.8" rx="4.4" ry="5.8" transform="rotate(19.3 707.0 343.8)" fill="none" stroke="#111" stroke-width="1.1"/>
<ellipse cx="693.0" cy="349.6" rx="3.5" ry="4.6" transform="rotate(19.3 693.0 349.6)" fill="none" stroke="#111" stroke-width="1.1"/>
<ellipse cx="665.6" cy="360.3" rx="4.4" ry="5.8" transform="rotate(19.3 665.6 360.3)" fill="none" stroke="#111" stroke-width="1.1"/>
<ellipse cx="723.6" cy="371.1" rx="4.4" ry="5.8" transform="rotate(19.3 723.6 371.1)" fill="none" stroke="#111" stroke-width="1.1"/>
<ellipse cx="696.3" cy="395.9" rx="4.4" ry="5.8" transform="rotate(19.3 696.3 395.9)" fill="none" stroke="#111" stroke-width="1.1"/>
<ellipse cx="721.1" cy="400.9" rx="3.3" ry="4.3" transform="rotate(19.3 721.1 400.9)" fill="none" stroke="#111" stroke-width="1.1"/>
<ellipse cx="734.3" cy="404.2" rx="4.4" ry="5.8" transform="rotate(19.3 734.3 404.2)" fill="none" stroke="#111" stroke-width="1.1"/>
<ellipse cx="664.8" cy="423.2" rx="4.4" ry="5.8" transform="rotate(19.3 664.8 423.2)" fill="none" stroke="#111" stroke-width="1.1"/>
<ellipse cx="643.3" cy="400.9" rx="4.4" ry="5.8" transform="rotate(19.3 643.3 400.9)" fill="none" stroke="#111" stroke-width="1.1"/>
<ellipse cx="738.0" cy="441.5" rx="4.4" ry="5.8" transform="rotate(19.3 738.0 441.5)" fill="none" stroke="#111" stroke-width="1.1"/>
<ellipse cx="736.8" cy="481.2" rx="4.4" ry="5.8" transform="rotate(19.3 736.8 481.2)" fill="none" stroke="#111" stroke-width="1.1"/>
<ellipse cx="654.1" cy="503.3" rx="4.4" ry="5.8" transform="rotate(19.3 654.1 503.3)" fill="none" stroke="#111" stroke-width="1.1"/>
<ellipse cx="697.4" cy="517.4" rx="3.3" ry="4.3" transform="rotate(19.3 697.4 517.4)" fill="none" stroke="#111" stroke-width="1.1"/>
<ellipse cx="729.2" cy="521.8" rx="4.4" ry="5.8" transform="rotate(19.3 729.2 521.8)" fill="none" stroke="#111" stroke-width="1.1"/>
<ellipse cx="659.4" cy="533.3" rx="4.4" ry="5.8" transform="rotate(19.3 659.4 533.3)" fill="none" stroke="#111" stroke-width="1.1"/>
<ellipse cx="642.6" cy="534.2" rx="4.4" ry="5.8" transform="rotate(19.3 642.6 534.2)" fill="none" stroke="#111" stroke-width="1.1"/>
<ellipse cx="692.1" cy="543.9" rx="4.4" ry="5.8" transform="rotate(19.3 692.1 543.9)" fill="none" stroke="#111" stroke-width="1.1"/>
<ellipse cx="713.3" cy="561.5" rx="4.4" ry="5.8" transform="rotate(19.3 713.3 561.5)" fill="none" stroke="#111" stroke-width="1.1"/>
<ellipse cx="670.9" cy="575.7" rx="3.3" ry="4.3" transform="rotate(19.3 670.9 575.7)" fill="none" stroke="#111" stroke-width="1.1"/>
<ellipse cx="635.6" cy="567.7" rx="4.4" ry="5.8" transform="rotate(19.3 635.6 567.7)" fill="none" stroke="#111" stroke-width="1.1"/>
<ellipse cx="689.9" cy="461.4" rx="31.0" ry="47.0" transform="rotate(19.3 689.9 461.4)" fill="none" stroke="#111" stroke-width="1.2"/>
<clipPath id="c6"><ellipse cx="689.9" cy="461.4" rx="31.0" ry="47.0" transform="rotate(19.3 689.9 461.4)"/></clipPath><g clip-path="url(#c6)">
<ellipse cx="684.7" cy="459.6" rx="31.0" ry="47.0" transform="rotate(19.3 684.7 459.6)" fill="none" stroke="#111" stroke-width="1.0"/>
<ellipse cx="678.1" cy="457.3" rx="31.0" ry="47.0" transform="rotate(19.3 678.1 457.3)" fill="none" stroke="#111" stroke-width="1.1"/>
<ellipse cx="675.7" cy="456.5" rx="31.0" ry="47.0" transform="rotate(19.3 675.7 456.5)" fill="none" stroke="#111" stroke-width="0.8"/>
<ellipse cx="666.2" cy="453.2" rx="31.0" ry="47.0" transform="rotate(19.3 666.2 453.2)" fill="none" stroke="#111" stroke-width="1.1"/>
</g>
<ellipse cx="602.5" cy="496.2" rx="14.2" ry="27.3" transform="rotate(19.3 602.5 496.2)" fill="none" stroke="#111" stroke-width="1.2"/>
<clipPath id="c7"><ellipse cx="602.5" cy="496.2" rx="14.2" ry="27.3" transform="rotate(19.3 602.5 496.2)"/></clipPath><g clip-path="url(#c7)">
<ellipse cx="598.7" cy="494.9" rx="14.2" ry="27.3" transform="rotate(19.3 598.7 494.9)" fill="none" stroke="#111" stroke-width="0.9"/>
<ellipse cx="594.9" cy="493.6" rx="14.2" ry="27.3" transform="rotate(19.3 594.9 493.6)" fill="none" stroke="#111" stroke-width="1.1"/>
<ellipse cx="587.4" cy="491.0" rx="14.2" ry="27.3" transform="rotate(19.3 587.4 491.0)" fill="none" stroke="#111" stroke-width="1.0"/>
</g>
<ellipse cx="601.2" cy="462.7" rx="3.6" ry="4.6" transform="rotate(19.3 601.2 462.7)" fill="none" stroke="#111" stroke-width="1.1"/>
<ellipse cx="587.1" cy="475.0" rx="2.2" ry="2.8" transform="rotate(19.3 587.1 475.0)" fill="none" stroke="#111" stroke-width="1.1"/>
<ellipse cx="624.2" cy="471.5" rx="2.2" ry="2.8" transform="rotate(19.3 624.2 471.5)" fill="none" stroke="#111" stroke-width="1.1"/>
<ellipse cx="625.0" cy="504.2" rx="2.2" ry="2.8" transform="rotate(19.3 625.0 504.2)" fill="none" stroke="#111" stroke-width="1.1"/>
<ellipse cx="588.9" cy="529.8" rx="2.2" ry="2.8" transform="rotate(19.3 588.9 529.8)" fill="none" stroke="#111" stroke-width="1.1"/>
<ellipse cx="603.0" cy="529.8" rx="3.6" ry="4.6" transform="rotate(19.3 603.0 529.8)" fill="none" stroke="#111" stroke-width="1.1"/>
<clipPath id="c8"><rect x="440" y="430" width="30" height="40"/></clipPath><g clip-path="url(#c8)">
<ellipse cx="453.5" cy="448.2" rx="6.5" ry="10.6" transform="rotate(19.3 453.5 448.2)" fill="#ddd" stroke="#111" stroke-width="1.1"/>
<ellipse cx="454.4" cy="448.6" rx="6.5" ry="10.6" transform="rotate(19.3 454.4 448.6)" fill="none" stroke="#444" stroke-width="0.6"/>
<ellipse cx="455.4" cy="449.0" rx="6.5" ry="10.6" transform="rotate(19.3 455.4 449.0)" fill="none" stroke="#444" stroke-width="0.6"/>
<ellipse cx="456.4" cy="449.3" rx="6.5" ry="10.6" transform="rotate(19.3 456.4 449.3)" fill="none" stroke="#444" stroke-width="0.6"/>
<ellipse cx="457.4" cy="449.7" rx="6.5" ry="10.6" transform="rotate(19.3 457.4 449.7)" fill="none" stroke="#444" stroke-width="0.6"/>
<ellipse cx="458.4" cy="450.0" rx="6.5" ry="10.6" transform="rotate(19.3 458.4 450.0)" fill="none" stroke="#444" stroke-width="0.6"/>
</g>
<path d="M455.7 438.5 L462.2 440.6" fill="none" stroke="#111" stroke-width="1.2" stroke-linejoin="round" stroke-linecap="round" />
<ellipse cx="459.7" cy="451.0" rx="6.5" ry="10.6" transform="rotate(19.3 459.7 451.0)" fill="#fff" stroke="#111" stroke-width="1.3"/>
<ellipse cx="493.8" cy="463.7" rx="6.8" ry="9.4" transform="rotate(15.0 493.8 463.7)" fill="none" stroke="#111" stroke-width="1.7"/>
<line x1="459.4" y1="451.3" x2="467.0" y2="453.9" stroke="#111" stroke-width="0.9"/>
<ellipse cx="832.6" cy="513.5" rx="30.6" ry="50.3" transform="rotate(16.0 832.6 513.5)" fill="none" stroke="#111" stroke-width="1.1"/>
<ellipse cx="834.8" cy="514.3" rx="30.6" ry="50.3" transform="rotate(16.0 834.8 514.3)" fill="none" stroke="#111" stroke-width="1.3"/>
<ellipse cx="838.6" cy="512.4" rx="26.0" ry="41.2" transform="rotate(17.0 838.6 512.4)" fill="none" stroke="#111" stroke-width="1.4"/>
<path d="M818.8 546.8 L818.1 546.1 L817.5 545.3 L816.9 544.5 L816.3 543.6 L815.7 542.7 L815.2 541.8 L814.7 540.8 L814.2 539.8 L813.8 538.8 L813.4 537.7 L813.0 536.6 L812.7 535.5 L812.3 534.3 L812.1 533.1 L811.8 531.9 L811.6 530.7 L811.4 529.4 L811.3 528.1 L811.1 526.8 L811.0 525.5 L811.0 524.2 L811.0 522.8 L811.0 521.5 L811.0 520.1 L811.1 518.7 L811.2 517.3 L811.4 516.0 L811.6 514.6 L811.8 513.2 L812.0 511.8 L812.3 510.4 L812.6 509.0 L813.0 507.6 L813.3 506.2 L813.7 504.8 L814.2 503.4 L814.6 502.1 L815.1 500.7 L815.7 499.4 L816.2 498.1 L816.8 496.8 L817.4 495.5 L818.0 494.2 L818.7 493.0 L819.4 491.8 L820.1 490.6 L820.8 489.4 L821.5 488.3 L822.3 487.2 L823.1 486.1 L823.9 485.1 L824.7 484.1 L825.6 483.1 L826.4 482.2 L827.3 481.3 L828.2 480.4 L829.1 479.6 L830.0 478.8 L830.9 478.0 L831.8 477.3" fill="none" stroke="#111" stroke-width="2.0" stroke-linejoin="round" stroke-linecap="round" />
<ellipse cx="839.6" cy="512.8" rx="24.4" ry="39.2" transform="rotate(17.0 839.6 512.8)" fill="none" stroke="#111" stroke-width="0.7"/>
<clipPath id="c9"><ellipse cx="838.6" cy="512.4" rx="26.0" ry="41.2" transform="rotate(17.0 838.6 512.4)"/></clipPath><g clip-path="url(#c9)">
<ellipse cx="848.0" cy="519.0" rx="20.0" ry="32.0" transform="rotate(19.3 848.0 519.0)" fill="none" stroke="#888" stroke-width="1.0"/>
</g>
<ellipse cx="830.4" cy="475.5" rx="1.8" ry="2.6" transform="rotate(19.3 830.4 475.5)" fill="none" stroke="#111" stroke-width="1.0"/>
<ellipse cx="851.0" cy="471.6" rx="1.8" ry="2.6" transform="rotate(19.3 851.0 471.6)" fill="none" stroke="#111" stroke-width="1.0"/>
<ellipse cx="862.2" cy="492.8" rx="1.8" ry="2.6" transform="rotate(19.3 862.2 492.8)" fill="none" stroke="#111" stroke-width="1.0"/>
<ellipse cx="811.9" cy="501.4" rx="1.8" ry="2.6" transform="rotate(19.3 811.9 501.4)" fill="none" stroke="#111" stroke-width="1.0"/>
<ellipse cx="805.6" cy="535.2" rx="1.8" ry="2.6" transform="rotate(19.3 805.6 535.2)" fill="none" stroke="#111" stroke-width="1.0"/>
<ellipse cx="815.8" cy="557.1" rx="1.8" ry="2.6" transform="rotate(19.3 815.8 557.1)" fill="none" stroke="#111" stroke-width="1.0"/>
<ellipse cx="837.0" cy="553.7" rx="1.8" ry="2.6" transform="rotate(19.3 837.0 553.7)" fill="none" stroke="#111" stroke-width="1.0"/>
<ellipse cx="873.5" cy="479.5" rx="2.3" ry="2.3" transform="rotate(0.0 873.5 479.5)" fill="#111" stroke="#111" stroke-width="0.8"/>
<path d="M882.1 481.6 L888.7 483.4" fill="none" stroke="#111" stroke-width="1.0" stroke-linejoin="round" stroke-linecap="round" />
<path d="M882.5 484.9 L888.7 487.2" fill="none" stroke="#111" stroke-width="1.0" stroke-linejoin="round" stroke-linecap="round" />
<ellipse cx="882.3" cy="483.2" rx="1.0" ry="1.7" transform="rotate(19.3 882.3 483.2)" fill="none" stroke="#111" stroke-width="0.9"/>
<ellipse cx="891.5" cy="485.3" rx="2.6" ry="3.6" transform="rotate(19.3 891.5 485.3)" fill="none" stroke="#111" stroke-width="1.1"/>
<ellipse cx="893.0" cy="485.8" rx="2.0" ry="2.9" transform="rotate(19.3 893.0 485.8)" fill="none" stroke="#111" stroke-width="1.0"/>
<ellipse cx="866.6" cy="590.4" rx="18.3" ry="24.6" transform="rotate(18.0 866.6 590.4)" fill="none" stroke="#111" stroke-width="1.4"/>
<ellipse cx="866.9" cy="590.6" rx="16.6" ry="22.8" transform="rotate(18.0 866.9 590.6)" fill="none" stroke="#111" stroke-width="0.9"/>
<path d="M867.8 650.9 C867.7 650.2 866.8 648.0 867.3 646.8 C867.7 645.6 869.7 644.4 870.2 643.9" fill="none" stroke="#111" stroke-width="1.0" stroke-linejoin="round" stroke-linecap="round" />
<path d="M867.8 650.9 L879.8 655.1" fill="none" stroke="#111" stroke-width="1.0" stroke-linejoin="round" stroke-linecap="round" />
<path d="M870.2 643.9 L882.2 648.1" fill="none" stroke="#111" stroke-width="1.0" stroke-linejoin="round" stroke-linecap="round" />
<ellipse cx="881.0" cy="651.6" rx="1.9" ry="3.7" transform="rotate(19.3 881.0 651.6)" fill="#fff" stroke="#111" stroke-width="1.0"/>
<ellipse cx="881.5" cy="651.8" rx="1.1" ry="2.4" transform="rotate(19.3 881.5 651.8)" fill="none" stroke="#111" stroke-width="0.7"/>
<path d="M1004.7 674.7 C1004.6 673.9 1003.7 671.5 1004.2 670.3 C1004.6 669.1 1006.8 667.8 1007.3 667.3" fill="none" stroke="#111" stroke-width="1.0" stroke-linejoin="round" stroke-linecap="round" />
<path d="M1004.7 674.7 L1016.7 679.1" fill="none" stroke="#111" stroke-width="1.0" stroke-linejoin="round" stroke-linecap="round" />
<path d="M1007.3 667.3 L1019.3 671.7" fill="none" stroke="#111" stroke-width="1.0" stroke-linejoin="round" stroke-linecap="round" />
<ellipse cx="1018.0" cy="675.4" rx="1.9" ry="3.9" transform="rotate(19.3 1018.0 675.4)" fill="#fff" stroke="#111" stroke-width="1.0"/>
<ellipse cx="1018.5" cy="675.6" rx="1.2" ry="2.5" transform="rotate(19.3 1018.5 675.6)" fill="none" stroke="#111" stroke-width="0.7"/>
<ellipse cx="1029.5" cy="630.3" rx="3.6" ry="5.0" transform="rotate(19.3 1029.5 630.3)" fill="#555" stroke="#111" stroke-width="1.6"/>
<ellipse cx="1029.7" cy="630.4" rx="1.6" ry="2.4" transform="rotate(19.3 1029.7 630.4)" fill="#ddd" stroke="#111" stroke-width="0.8"/>
<path d="M1044.6 638.8 C1044.5 638.3 1043.9 636.6 1044.2 635.7 C1044.5 634.8 1046.1 633.9 1046.4 633.6" fill="none" stroke="#111" stroke-width="1.0" stroke-linejoin="round" stroke-linecap="round" />
<path d="M1044.6 638.8 L1054.6 642.4" fill="none" stroke="#111" stroke-width="1.0" stroke-linejoin="round" stroke-linecap="round" />
<path d="M1046.4 633.6 L1056.4 637.2" fill="none" stroke="#111" stroke-width="1.0" stroke-linejoin="round" stroke-linecap="round" />
<ellipse cx="1055.5" cy="639.8" rx="1.4" ry="2.8" transform="rotate(19.3 1055.5 639.8)" fill="#fff" stroke="#111" stroke-width="1.0"/>
<ellipse cx="1056.0" cy="640.0" rx="0.8" ry="1.8" transform="rotate(19.3 1056.0 640.0)" fill="none" stroke="#111" stroke-width="0.7"/>
<ellipse cx="1060.0" cy="641.2" rx="3.6" ry="5.2" transform="rotate(19.3 1060.0 641.2)" fill="#fff" stroke="#111" stroke-width="1.5"/>
<ellipse cx="1061.0" cy="641.5" rx="2.6" ry="3.9" transform="rotate(19.3 1061.0 641.5)" fill="none" stroke="#111" stroke-width="1.0"/>
<path d="M1056.0 637.0 L1056.5 645.5" fill="none" stroke="#111" stroke-width="0.9" stroke-linejoin="round" stroke-linecap="round" />
<ellipse cx="1344.3" cy="689.3" rx="3.9" ry="5.3" transform="rotate(19.3 1344.3 689.3)" fill="#555" stroke="#111" stroke-width="1.6"/>
<ellipse cx="1344.5" cy="689.4" rx="1.7" ry="2.5" transform="rotate(19.3 1344.5 689.4)" fill="#ddd" stroke="#111" stroke-width="0.8"/>
<path d="M1360.8 698.2 C1360.8 697.5 1359.9 695.4 1360.3 694.2 C1360.7 693.1 1362.7 691.9 1363.2 691.4" fill="none" stroke="#111" stroke-width="1.0" stroke-linejoin="round" stroke-linecap="round" />
<path d="M1360.8 698.2 L1393.8 709.4" fill="none" stroke="#111" stroke-width="1.0" stroke-linejoin="round" stroke-linecap="round" />
<path d="M1363.2 691.4 L1396.2 702.6" fill="none" stroke="#111" stroke-width="1.0" stroke-linejoin="round" stroke-linecap="round" />
<ellipse cx="1395.0" cy="706.0" rx="1.8" ry="3.6" transform="rotate(19.3 1395.0 706.0)" fill="#fff" stroke="#111" stroke-width="1.0"/>
<ellipse cx="1395.5" cy="706.2" rx="1.1" ry="2.3" transform="rotate(19.3 1395.5 706.2)" fill="none" stroke="#111" stroke-width="0.7"/>
<ellipse cx="1399.5" cy="707.3" rx="3.2" ry="4.9" transform="rotate(19.3 1399.5 707.3)" fill="#fff" stroke="#111" stroke-width="1.2"/>
<path d="M1396.0 702.2 L1399.0 701.8" fill="none" stroke="#111" stroke-width="1.0" stroke-linejoin="round" stroke-linecap="round" />
<path d="M1394.5 711.0 L1398.0 712.3" fill="none" stroke="#111" stroke-width="1.0" stroke-linejoin="round" stroke-linecap="round" />
<path d="M933.6 558.0 C932.7 558.3 929.8 557.9 928.3 559.7 C926.8 561.5 926.5 563.0 924.7 568.6 C922.9 574.2 919.9 582.4 917.7 593.3 C915.5 604.2 912.8 620.1 911.5 633.9 C910.2 647.7 909.6 668.6 909.7 676.3 C909.9 684.0 911.1 679.6 912.4 679.9 C913.7 680.2 916.8 678.4 917.7 678.1" fill="none" stroke="#111" stroke-width="1.1" stroke-linejoin="round" stroke-linecap="round" />
<path d="M928.3 559.7 C928.7 559.2 929.5 557.2 930.5 556.5 C931.5 555.8 933.4 555.7 934.0 555.5" fill="none" stroke="#111" stroke-width="1.0" stroke-linejoin="round" stroke-linecap="round" />
<path d="M933.6 561.5 C935.0 560.4 938.8 556.9 942.0 555.0 C945.2 553.1 949.3 551.1 953.0 550.0 C956.7 548.9 960.5 548.6 964.0 548.5 C967.5 548.4 971.0 548.4 974.2 549.1 C977.4 549.8 980.8 550.9 983.0 552.7 C985.2 554.5 986.7 555.2 987.5 559.7 C988.3 564.2 988.0 572.3 988.0 580.0 C988.0 587.7 987.9 598.2 987.5 605.7 C987.1 613.2 986.2 618.5 985.5 625.0 C984.8 631.5 984.6 638.3 983.0 644.5 C981.4 650.7 978.6 657.2 976.0 662.2 C973.4 667.2 969.8 671.4 967.1 674.6 C964.4 677.8 963.5 679.8 960.0 681.6 C956.5 683.4 950.6 684.6 945.9 685.2 C941.2 685.8 935.6 685.7 931.8 685.2 C928.0 684.8 925.4 683.7 923.0 682.5 C920.6 681.3 918.7 680.3 917.7 678.1 C916.7 675.9 916.7 674.8 916.8 669.3 C916.9 663.8 917.8 652.7 918.5 645.0 C919.2 637.3 919.9 631.9 921.2 623.3 C922.5 614.7 924.9 602.1 926.5 593.3 C928.1 584.5 929.7 575.6 930.9 570.3 C932.1 565.0 933.1 563.0 933.6 561.5" fill="none" stroke="#111" stroke-width="1.2" stroke-linejoin="round" stroke-linecap="round" />
<ellipse cx="951.7" cy="619.4" rx="13.5" ry="22.5" transform="rotate(19.3 951.7 619.4)" fill="none" stroke="#111" stroke-width="1.3"/>
<clipPath id="c10"><ellipse cx="951.7" cy="619.4" rx="13.5" ry="22.5" transform="rotate(19.3 951.7 619.4)"/></clipPath><g clip-path="url(#c10)">
<ellipse cx="955.5" cy="620.7" rx="12.8" ry="21.4" transform="rotate(19.3 955.5 620.7)" fill="none" stroke="#111" stroke-width="1.0"/>
<ellipse cx="959.3" cy="622.0" rx="12.8" ry="21.4" transform="rotate(19.3 959.3 622.0)" fill="none" stroke="#111" stroke-width="1.2"/>
<ellipse cx="963.1" cy="623.3" rx="12.8" ry="21.4" transform="rotate(19.3 963.1 623.3)" fill="none" stroke="#111" stroke-width="1.0"/>
</g>
<ellipse cx="952.7" cy="619.9" rx="15.1" ry="24.8" transform="rotate(19.3 952.7 619.9)" fill="none" stroke="#111" stroke-width="0.9"/>
<path d="M938.0 638.4 L916.8 670.2" fill="none" stroke="#111" stroke-width="1.0" stroke-linejoin="round" stroke-linecap="round" />
<path d="M940.0 640.0 L919.0 671.5" fill="none" stroke="#111" stroke-width="1.0" stroke-linejoin="round" stroke-linecap="round" />
<path d="M954.8 641.0 L962.7 679.0" fill="none" stroke="#111" stroke-width="1.0" stroke-linejoin="round" stroke-linecap="round" />
<path d="M957.0 640.5 L964.5 678.0" fill="none" stroke="#111" stroke-width="1.0" stroke-linejoin="round" stroke-linecap="round" />
<ellipse cx="961.0" cy="556.2" rx="2.4" ry="3.2" transform="rotate(19.3 961.0 556.2)" fill="none" stroke="#111" stroke-width="1.0"/>
<ellipse cx="971.6" cy="557.1" rx="1.7" ry="2.4" transform="rotate(19.3 971.6 557.1)" fill="none" stroke="#111" stroke-width="1.0"/>
<ellipse cx="982.2" cy="561.5" rx="2.4" ry="3.2" transform="rotate(19.3 982.2 561.5)" fill="none" stroke="#111" stroke-width="1.0"/>
<ellipse cx="936.2" cy="567.7" rx="2.4" ry="3.2" transform="rotate(19.3 936.2 567.7)" fill="none" stroke="#111" stroke-width="1.0"/>
<ellipse cx="951.2" cy="586.2" rx="3.0" ry="3.8" transform="rotate(19.3 951.2 586.2)" fill="none" stroke="#111" stroke-width="1.0"/>
<ellipse cx="936.2" cy="597.7" rx="3.8" ry="5.0" transform="rotate(19.3 936.2 597.7)" fill="none" stroke="#111" stroke-width="1.0"/>
<ellipse cx="937.0" cy="598.0" rx="2.3" ry="3.0" transform="rotate(19.3 937.0 598.0)" fill="none" stroke="#111" stroke-width="0.8"/>
<ellipse cx="973.3" cy="593.3" rx="3.8" ry="5.4" transform="rotate(19.3 973.3 593.3)" fill="none" stroke="#111" stroke-width="1.0"/>
<ellipse cx="974.1" cy="593.6" rx="2.3" ry="3.2" transform="rotate(19.3 974.1 593.6)" fill="none" stroke="#111" stroke-width="0.8"/>
<ellipse cx="977.7" cy="608.3" rx="2.0" ry="2.8" transform="rotate(19.3 977.7 608.3)" fill="none" stroke="#111" stroke-width="1.0"/>
<ellipse cx="973.3" cy="626.9" rx="3.8" ry="5.4" transform="rotate(19.3 973.3 626.9)" fill="none" stroke="#111" stroke-width="1.0"/>
<ellipse cx="974.1" cy="627.2" rx="2.3" ry="3.2" transform="rotate(19.3 974.1 627.2)" fill="none" stroke="#111" stroke-width="0.8"/>
<ellipse cx="926.5" cy="629.5" rx="2.4" ry="3.2" transform="rotate(19.3 926.5 629.5)" fill="none" stroke="#111" stroke-width="1.0"/>
<ellipse cx="938.0" cy="652.5" rx="3.6" ry="5.0" transform="rotate(19.3 938.0 652.5)" fill="none" stroke="#111" stroke-width="1.0"/>
<ellipse cx="938.8" cy="652.8" rx="2.2" ry="3.0" transform="rotate(19.3 938.8 652.8)" fill="none" stroke="#111" stroke-width="0.8"/>
<ellipse cx="953.0" cy="652.5" rx="2.4" ry="3.8" transform="rotate(19.3 953.0 652.5)" fill="none" stroke="#111" stroke-width="1.0"/>
<ellipse cx="967.1" cy="671.0" rx="2.2" ry="3.0" transform="rotate(19.3 967.1 671.0)" fill="none" stroke="#111" stroke-width="1.0"/>
<ellipse cx="923.0" cy="676.3" rx="2.2" ry="3.0" transform="rotate(19.3 923.0 676.3)" fill="none" stroke="#111" stroke-width="1.0"/>
<ellipse cx="944.2" cy="681.6" rx="2.2" ry="3.0" transform="rotate(19.3 944.2 681.6)" fill="none" stroke="#111" stroke-width="1.0"/>
<ellipse cx="955.7" cy="679.0" rx="1.6" ry="2.2" transform="rotate(19.3 955.7 679.0)" fill="none" stroke="#111" stroke-width="1.0"/>
<path d="M1150.6 616.5 C1153.8 616.4 1157.4 615.8 1161.2 616.5 C1165.0 617.2 1171.0 618.4 1173.5 620.9 C1176.0 623.4 1175.6 628.3 1176.2 631.5 C1176.8 634.7 1176.0 635.9 1177.0 640.3 C1178.0 644.7 1181.4 650.6 1182.3 658.0 C1183.2 665.4 1183.0 676.8 1182.3 684.4 C1181.6 692.0 1180.0 697.9 1177.9 703.8 C1175.9 709.7 1172.5 715.0 1170.0 719.7 C1167.5 724.4 1165.0 728.2 1162.9 732.0 C1160.8 735.8 1160.5 739.6 1157.6 742.6 C1154.7 745.6 1150.0 747.6 1145.3 749.7 C1140.6 751.8 1134.7 754.7 1129.4 755.0 C1124.1 755.3 1118.5 754.1 1113.5 751.5 C1108.5 748.9 1103.1 744.4 1099.4 739.1 C1095.7 733.8 1093.0 727.4 1091.5 719.7 C1090.0 712.1 1090.2 701.1 1090.6 693.2 C1091.0 685.3 1092.0 679.5 1094.1 672.1 C1096.1 664.8 1099.4 655.9 1102.9 649.1 C1106.4 642.3 1110.9 636.0 1115.3 631.5 C1119.7 627.0 1125.0 624.1 1129.4 621.8 C1133.8 619.4 1138.3 618.3 1141.8 617.4 C1145.3 616.5 1147.4 616.6 1150.6 616.5 Z" fill="none" stroke="#111" stroke-width="1.2" stroke-linejoin="round" stroke-linecap="round" />
<path d="M1102.9 649.1 C1101.9 650.9 1098.7 656.2 1097.0 660.0 C1095.3 663.8 1093.8 666.5 1092.5 672.0 C1091.2 677.5 1089.5 685.0 1089.0 693.0 C1088.5 701.0 1088.5 712.7 1089.7 719.7 C1090.9 726.7 1095.0 732.5 1096.0 735.0" fill="none" stroke="#111" stroke-width="0.9" stroke-linejoin="round" stroke-linecap="round" />
<ellipse cx="1142.6" cy="685.3" rx="13.2" ry="20.4" transform="rotate(12.0 1142.6 685.3)" fill="none" stroke="#111" stroke-width="1.3"/>
<ellipse cx="1150.6" cy="622.6" rx="2.4" ry="3.4" transform="rotate(19.3 1150.6 622.6)" fill="none" stroke="#111" stroke-width="1.1"/>
<ellipse cx="1150.9" cy="622.6" rx="1.1" ry="1.7" transform="rotate(19.3 1150.9 622.6)" fill="none" stroke="#111" stroke-width="0.7"/>
<ellipse cx="1162.0" cy="623.5" rx="2.4" ry="3.4" transform="rotate(19.3 1162.0 623.5)" fill="none" stroke="#111" stroke-width="1.1"/>
<ellipse cx="1162.3" cy="623.5" rx="1.1" ry="1.7" transform="rotate(19.3 1162.3 623.5)" fill="none" stroke="#111" stroke-width="0.7"/>
<ellipse cx="1172.6" cy="628.8" rx="2.4" ry="3.4" transform="rotate(19.3 1172.6 628.8)" fill="none" stroke="#111" stroke-width="1.1"/>
<ellipse cx="1172.9" cy="628.8" rx="1.1" ry="1.7" transform="rotate(19.3 1172.9 628.8)" fill="none" stroke="#111" stroke-width="0.7"/>
<ellipse cx="1126.8" cy="634.1" rx="2.4" ry="3.4" transform="rotate(19.3 1126.8 634.1)" fill="none" stroke="#111" stroke-width="1.1"/>
<ellipse cx="1127.1" cy="634.1" rx="1.1" ry="1.7" transform="rotate(19.3 1127.1 634.1)" fill="none" stroke="#111" stroke-width="0.7"/>
<ellipse cx="1157.6" cy="738.2" rx="2.4" ry="3.4" transform="rotate(19.3 1157.6 738.2)" fill="none" stroke="#111" stroke-width="1.1"/>
<ellipse cx="1157.9" cy="738.2" rx="1.1" ry="1.7" transform="rotate(19.3 1157.9 738.2)" fill="none" stroke="#111" stroke-width="0.7"/>
<ellipse cx="1146.2" cy="745.3" rx="2.4" ry="3.4" transform="rotate(19.3 1146.2 745.3)" fill="none" stroke="#111" stroke-width="1.1"/>
<ellipse cx="1146.5" cy="745.3" rx="1.1" ry="1.7" transform="rotate(19.3 1146.5 745.3)" fill="none" stroke="#111" stroke-width="0.7"/>
<ellipse cx="1133.8" cy="748.8" rx="2.4" ry="3.4" transform="rotate(19.3 1133.8 748.8)" fill="none" stroke="#111" stroke-width="1.1"/>
<ellipse cx="1134.1" cy="748.8" rx="1.1" ry="1.7" transform="rotate(19.3 1134.1 748.8)" fill="none" stroke="#111" stroke-width="0.7"/>
<ellipse cx="1112.6" cy="742.6" rx="2.4" ry="3.4" transform="rotate(19.3 1112.6 742.6)" fill="none" stroke="#111" stroke-width="1.1"/>
<ellipse cx="1112.9" cy="742.6" rx="1.1" ry="1.7" transform="rotate(19.3 1112.9 742.6)" fill="none" stroke="#111" stroke-width="0.7"/>
<path d="M1239.6 658.7 C1241.4 658.2 1246.2 656.5 1250.5 655.5 C1254.8 654.5 1259.6 653.1 1265.1 652.5 C1270.6 651.9 1277.2 651.1 1283.3 651.8 C1289.4 652.5 1296.7 654.5 1301.5 656.5 C1306.3 658.5 1309.5 661.4 1312.4 664.0 C1315.3 666.6 1317.3 669.2 1319.0 672.0 C1320.7 674.8 1321.9 679.5 1322.5 681.0" fill="none" stroke="#111" stroke-width="1.1" stroke-linejoin="round" stroke-linecap="round" />
<path d="M1248.7 683.2 C1249.9 681.7 1252.3 677.0 1256.0 674.0 C1259.7 671.0 1265.4 667.5 1270.6 665.5 C1275.8 663.5 1281.2 662.4 1287.0 662.3 C1292.8 662.2 1300.4 663.3 1305.2 665.0 C1310.0 666.7 1313.5 669.6 1316.1 672.3 C1318.7 675.0 1319.7 678.7 1320.6 681.4 C1321.5 684.1 1321.4 682.6 1321.5 688.7 C1321.6 694.8 1321.9 708.1 1321.0 717.8 C1320.1 727.5 1318.1 739.7 1316.1 747.0 C1314.1 754.3 1311.2 757.3 1308.8 761.5 C1306.4 765.7 1303.9 768.8 1301.5 772.4 C1299.1 776.0 1296.6 779.4 1294.2 783.4 C1291.8 787.4 1290.6 793.1 1287.0 796.1 C1283.4 799.1 1277.3 801.3 1272.4 801.6 C1267.5 801.9 1261.5 799.5 1257.8 798.0 C1254.1 796.5 1253.0 793.8 1250.5 792.5 C1248.0 791.2 1244.2 790.8 1243.0 790.5" fill="none" stroke="#111" stroke-width="1.2" stroke-linejoin="round" stroke-linecap="round" />
<path d="M1248.7 683.2 C1248.1 685.3 1246.4 690.2 1245.1 696.0 C1243.8 701.8 1241.9 709.6 1241.0 717.8 C1240.1 726.0 1239.9 735.3 1239.5 745.0 C1239.1 754.7 1238.4 768.6 1238.5 776.1 C1238.6 783.6 1239.8 787.7 1240.0 790.0" fill="none" stroke="#111" stroke-width="1.1" stroke-linejoin="round" stroke-linecap="round" />
<path d="M1221.4 672.3 L1239.6 658.7 L1268.7 666.8 L1248.7 683.2 L1221.4 672.3" fill="none" stroke="#111" stroke-width="1.1" stroke-linejoin="round" stroke-linecap="round" />
<path d="M1221.4 672.3 L1221.4 677.0 L1247.5 687.5 L1248.7 683.2" fill="none" stroke="#111" stroke-width="1.0" stroke-linejoin="round" stroke-linecap="round" />
<ellipse cx="1228.7" cy="672.3" rx="1.8" ry="1.4" transform="rotate(0.0 1228.7 672.3)" fill="none" stroke="#111" stroke-width="0.9"/>
<ellipse cx="1243.3" cy="660.5" rx="1.8" ry="1.4" transform="rotate(0.0 1243.3 660.5)" fill="none" stroke="#111" stroke-width="0.9"/>
<ellipse cx="1258.7" cy="665.9" rx="1.8" ry="1.4" transform="rotate(0.0 1258.7 665.9)" fill="none" stroke="#111" stroke-width="0.9"/>
<ellipse cx="1243.3" cy="677.8" rx="1.8" ry="1.4" transform="rotate(0.0 1243.3 677.8)" fill="none" stroke="#111" stroke-width="0.9"/>
<path d="M1221.4 677.0 C1220.8 679.2 1219.4 685.8 1218.0 690.0 C1216.6 694.2 1214.7 698.3 1213.0 702.0 C1211.3 705.7 1208.8 710.3 1208.0 712.0" fill="none" stroke="#111" stroke-width="1.1" stroke-linejoin="round" stroke-linecap="round" />
<path d="M1248.7 688.7 C1247.8 691.1 1245.7 698.8 1243.3 703.3 C1240.9 707.8 1236.6 712.0 1234.2 716.0 C1231.8 720.0 1229.9 723.0 1228.7 727.0 C1227.5 731.0 1227.1 735.9 1226.9 739.7 C1226.7 743.5 1227.4 748.3 1227.5 750.0" fill="none" stroke="#111" stroke-width="1.0" stroke-linejoin="round" stroke-linecap="round" />
<path d="M1245.1 690.5 C1244.2 692.4 1242.1 698.0 1240.0 702.0 C1237.9 706.0 1234.5 710.5 1232.3 714.2 C1230.1 717.9 1227.9 722.4 1227.0 724.0" fill="none" stroke="#111" stroke-width="0.8" stroke-linejoin="round" stroke-linecap="round" />
<path d="M1228.7 757.9 C1228.9 759.1 1229.4 762.6 1230.0 765.0 C1230.6 767.4 1231.9 771.2 1232.3 772.4" fill="none" stroke="#111" stroke-width="0.9" stroke-linejoin="round" stroke-linecap="round" />
<path d="M1217.8 763.3 C1218.8 764.1 1222.1 766.5 1224.0 768.0 C1225.9 769.5 1228.2 771.7 1229.0 772.4" fill="none" stroke="#111" stroke-width="0.8" stroke-linejoin="round" stroke-linecap="round" />
<path d="M1226.0 688.0 C1225.3 690.0 1223.3 696.0 1222.0 700.0 C1220.7 704.0 1218.7 710.0 1218.0 712.0" fill="none" stroke="#111" stroke-width="0.8" stroke-linejoin="round" stroke-linecap="round" />
<path d="M1203.0 714.0 C1204.5 713.5 1208.8 711.1 1212.0 711.0 C1215.2 710.9 1219.5 712.2 1222.0 713.5 C1224.5 714.8 1226.1 715.4 1227.0 719.0 C1227.9 722.6 1227.7 729.8 1227.5 735.0 C1227.3 740.2 1227.2 746.5 1226.0 750.0 C1224.8 753.5 1223.0 755.0 1220.0 756.0 C1217.0 757.0 1211.2 757.0 1208.0 756.0 C1204.8 755.0 1202.5 753.5 1201.0 750.0 C1199.5 746.5 1199.2 740.0 1199.0 735.0 C1198.8 730.0 1198.8 723.5 1199.5 720.0 C1200.2 716.5 1202.4 715.0 1203.0 714.0" fill="none" stroke="#111" stroke-width="1.3" stroke-linejoin="round" stroke-linecap="round" />
<path d="M1207.0 719.0 C1208.0 718.7 1211.0 717.0 1213.0 717.0 C1215.0 717.0 1217.7 717.8 1219.0 719.0 C1220.3 720.2 1220.7 720.5 1221.0 724.0 C1221.3 727.5 1221.3 735.8 1221.0 740.0 C1220.7 744.2 1220.3 747.2 1219.0 749.0 C1217.7 750.8 1215.0 751.0 1213.0 751.0 C1211.0 751.0 1208.4 750.8 1207.0 749.0 C1205.6 747.2 1204.9 744.0 1204.5 740.0 C1204.1 736.0 1204.1 728.5 1204.5 725.0 C1204.9 721.5 1206.6 720.0 1207.0 719.0" fill="none" stroke="#111" stroke-width="1.1" stroke-linejoin="round" stroke-linecap="round" />
<path d="M1205.0 716.5 C1206.8 716.2 1212.8 714.1 1216.0 714.5 C1219.2 714.9 1222.6 715.6 1224.0 719.0 C1225.4 722.4 1224.7 729.8 1224.5 735.0 C1224.3 740.2 1223.2 747.5 1223.0 750.0" fill="none" stroke="#111" stroke-width="0.7" stroke-linejoin="round" stroke-linecap="round" />
<path d="M1201.0 756.0 C1200.3 757.7 1198.5 762.4 1197.0 766.0 C1195.5 769.6 1192.9 774.9 1192.1 777.7 C1191.3 780.5 1191.5 780.9 1192.1 782.6 C1192.6 784.4 1193.8 787.0 1195.4 788.2 C1197.0 789.4 1199.7 790.2 1201.8 789.8 C1203.9 789.4 1207.5 788.3 1208.3 785.8 C1209.1 783.2 1206.6 777.5 1206.6 774.5 C1206.5 771.5 1207.8 769.1 1208.0 768.0" fill="none" stroke="#111" stroke-width="1.1" stroke-linejoin="round" stroke-linecap="round" />
<path d="M1200.2 769.7 C1201.3 770.5 1205.5 773.7 1206.6 774.5" fill="none" stroke="#111" stroke-width="0.9" stroke-linejoin="round" stroke-linecap="round" />
<ellipse cx="1201.8" cy="782.6" rx="1.8" ry="2.6" transform="rotate(19.3 1201.8 782.6)" fill="none" stroke="#111" stroke-width="1.0"/>
<path d="M1208.3 785.8 C1208.8 786.3 1209.9 787.5 1211.5 789.0 C1213.1 790.5 1215.5 793.8 1217.9 794.6 C1220.3 795.4 1224.4 794.7 1226.0 793.8 C1227.6 792.9 1227.8 791.0 1227.6 789.0 C1227.4 787.0 1226.4 783.8 1225.0 782.0 C1223.6 780.2 1220.5 778.2 1219.0 778.0 C1217.5 777.8 1217.5 779.2 1216.3 781.0 C1215.0 782.8 1212.3 787.7 1211.5 789.0" fill="none" stroke="#111" stroke-width="1.1" stroke-linejoin="round" stroke-linecap="round" />
<ellipse cx="1222.8" cy="789.8" rx="1.8" ry="2.6" transform="rotate(19.3 1222.8 789.8)" fill="none" stroke="#111" stroke-width="1.0"/>
<path d="M1227.6 789.0 C1228.7 789.3 1231.4 790.8 1234.0 791.0 C1236.6 791.2 1241.5 790.6 1243.0 790.5" fill="none" stroke="#111" stroke-width="1.0" stroke-linejoin="round" stroke-linecap="round" />
<path d="M1210.0 770.0 C1211.0 770.8 1214.5 773.7 1216.0 775.0 C1217.5 776.3 1218.5 777.5 1219.0 778.0" fill="none" stroke="#111" stroke-width="0.8" stroke-linejoin="round" stroke-linecap="round" />
<path d="M1213.0 762.0 C1214.5 763.0 1219.3 766.3 1222.0 768.0 C1224.7 769.7 1227.8 771.3 1229.0 772.0" fill="none" stroke="#111" stroke-width="0.8" stroke-linejoin="round" stroke-linecap="round" />
<path d="M1205.0 760.0 L1210.0 770.0" fill="none" stroke="#111" stroke-width="0.8" stroke-linejoin="round" stroke-linecap="round" />
<ellipse cx="1263.3" cy="681.4" rx="2.6" ry="3.4" transform="rotate(19.3 1263.3 681.4)" fill="none" stroke="#111" stroke-width="1.0"/>
<ellipse cx="1287.0" cy="670.5" rx="2.6" ry="3.4" transform="rotate(19.3 1287.0 670.5)" fill="none" stroke="#111" stroke-width="1.0"/>
<ellipse cx="1307.9" cy="677.8" rx="2.6" ry="3.4" transform="rotate(19.3 1307.9 677.8)" fill="none" stroke="#111" stroke-width="1.0"/>
<ellipse cx="1294.2" cy="785.2" rx="2.6" ry="3.4" transform="rotate(19.3 1294.2 785.2)" fill="none" stroke="#111" stroke-width="1.0"/>
<ellipse cx="1270.6" cy="797.0" rx="2.6" ry="3.4" transform="rotate(19.3 1270.6 797.0)" fill="none" stroke="#111" stroke-width="1.0"/>
<ellipse cx="1248.7" cy="790.6" rx="2.6" ry="3.4" transform="rotate(19.3 1248.7 790.6)" fill="none" stroke="#111" stroke-width="1.0"/>
<ellipse cx="1279.0" cy="734.5" rx="31.7" ry="45.3" transform="rotate(19.3 1279.0 734.5)" fill="none" stroke="#111" stroke-width="2.0"/>
<ellipse cx="1279.0" cy="734.5" rx="23.4" ry="33.5" transform="rotate(19.3 1279.0 734.5)" fill="none" stroke="#111" stroke-width="2.0"/>
<ellipse cx="1279.0" cy="734.5" rx="14.4" ry="20.6" transform="rotate(19.3 1279.0 734.5)" fill="none" stroke="#111" stroke-width="1.8"/>
<ellipse cx="1279.0" cy="734.5" rx="9.2" ry="13.2" transform="rotate(19.3 1279.0 734.5)" fill="none" stroke="#111" stroke-width="1.8"/>
<ellipse cx="1279.8" cy="734.8" rx="8.5" ry="12.2" transform="rotate(19.3 1279.8 734.8)" fill="none" stroke="#111" stroke-width="0.7"/>
<line x1="1274.0" y1="731.5" x2="1281.0" y2="734.0" stroke="#111" stroke-width="0.8"/>
<line x1="1291.2" y1="742.6" x2="1309.6" y2="754.7" stroke="#111" stroke-width="1.8"/>
<line x1="1286.1" y1="749.7" x2="1296.7" y2="772.5" stroke="#111" stroke-width="1.8"/>
<line x1="1279.5" y1="753.9" x2="1280.3" y2="782.9" stroke="#111" stroke-width="1.8"/>
<line x1="1272.9" y1="754.2" x2="1263.7" y2="783.6" stroke="#111" stroke-width="1.8"/>
<line x1="1267.4" y1="750.6" x2="1250.1" y2="774.7" stroke="#111" stroke-width="1.8"/>
<line x1="1264.3" y1="743.8" x2="1242.2" y2="757.7" stroke="#111" stroke-width="1.8"/>
<line x1="1264.1" y1="735.2" x2="1241.6" y2="736.2" stroke="#111" stroke-width="1.8"/>
<line x1="1266.8" y1="726.4" x2="1248.4" y2="714.3" stroke="#111" stroke-width="1.8"/>
<line x1="1271.9" y1="719.3" x2="1261.3" y2="696.5" stroke="#111" stroke-width="1.8"/>
<line x1="1278.5" y1="715.1" x2="1277.7" y2="686.1" stroke="#111" stroke-width="1.8"/>
<line x1="1285.1" y1="714.8" x2="1294.3" y2="685.4" stroke="#111" stroke-width="1.8"/>
<line x1="1290.6" y1="718.4" x2="1307.9" y2="694.3" stroke="#111" stroke-width="1.8"/>
<line x1="1293.7" y1="725.2" x2="1315.8" y2="711.3" stroke="#111" stroke-width="1.8"/>
<line x1="1293.9" y1="733.8" x2="1316.4" y2="732.8" stroke="#111" stroke-width="1.8"/>
</svg>
</body></html>
